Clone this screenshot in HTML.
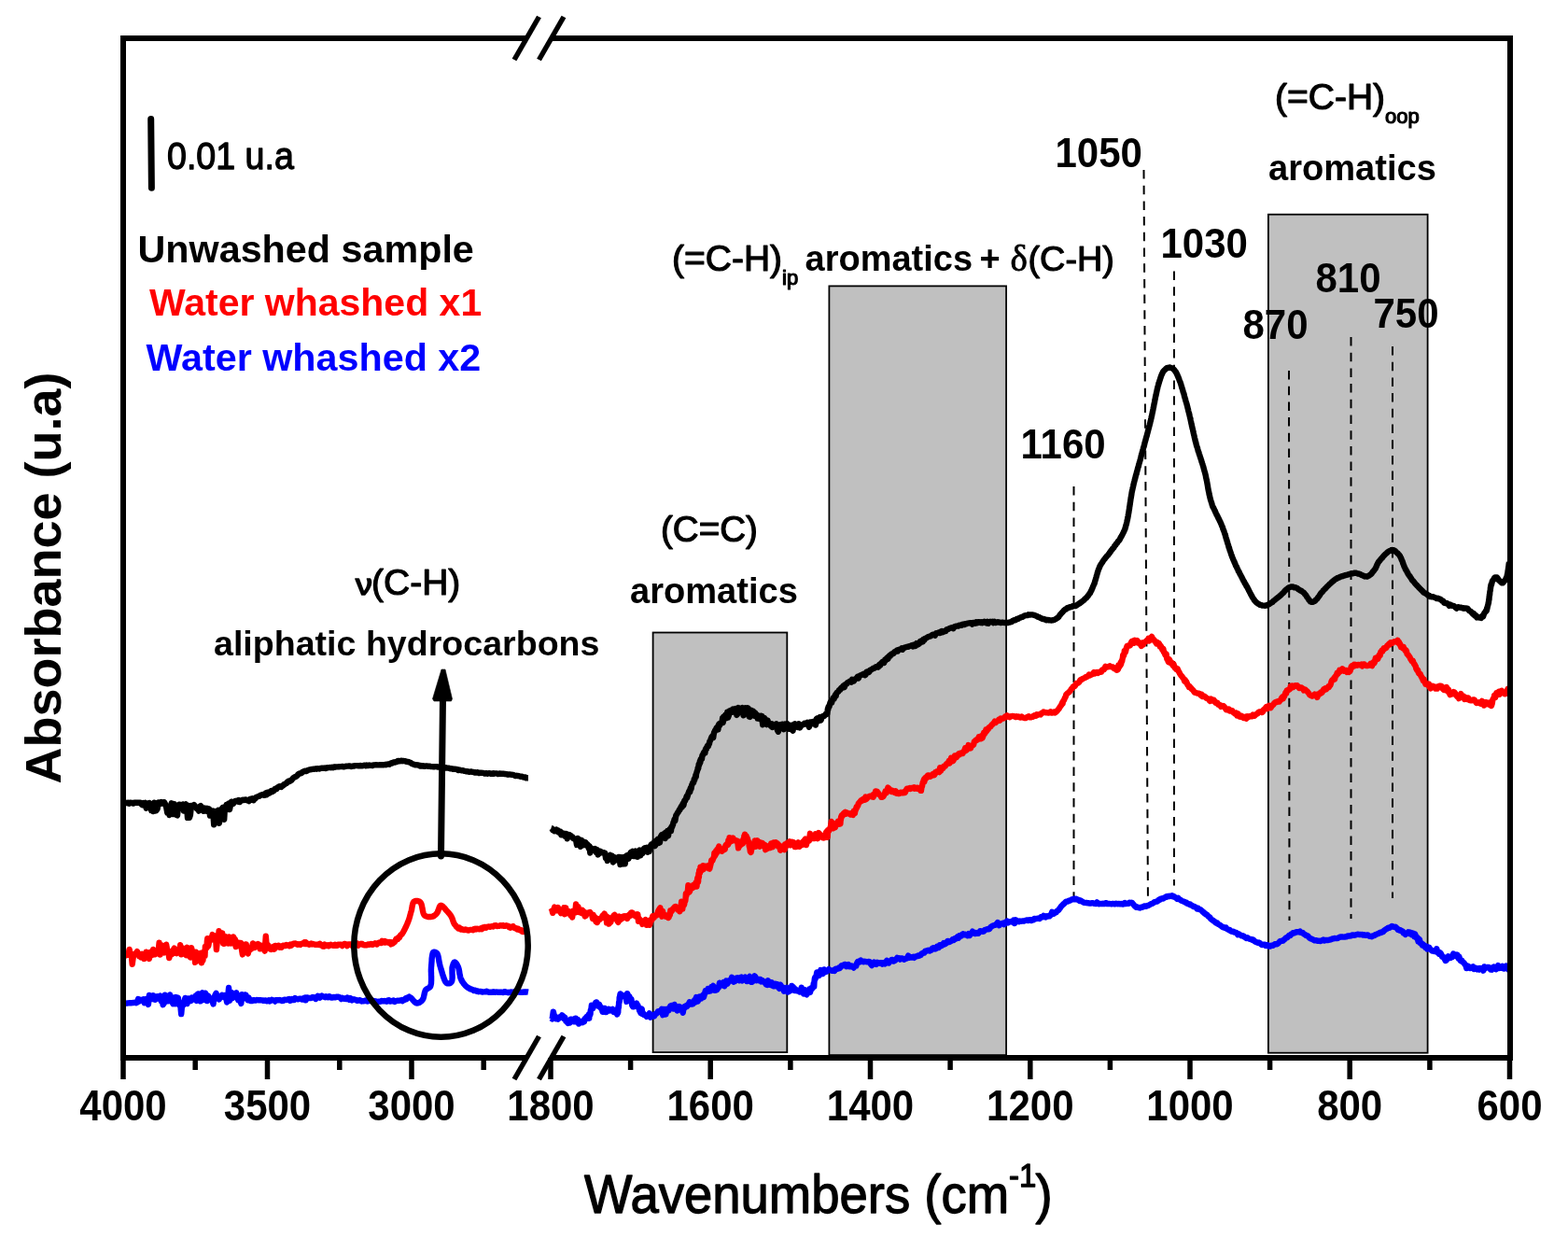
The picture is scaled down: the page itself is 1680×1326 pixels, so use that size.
<!DOCTYPE html>
<html><head><meta charset="utf-8"><title>FTIR spectra</title>
<style>html,body{margin:0;padding:0;background:#fff;}svg{display:block;}</style>
</head><body>
<svg width="1680" height="1326" viewBox="0 0 1680 1326"><rect x="699.6" y="677.5" width="143.7" height="449.6" fill="#c0c0c0" stroke="#000" stroke-width="1.8"/>
<rect x="888.4" y="306.4" width="189.7" height="823.7" fill="#c0c0c0" stroke="#000" stroke-width="1.8"/>
<rect x="1358.9" y="229.7" width="170.7" height="898.0" fill="#c0c0c0" stroke="#000" stroke-width="1.8"/>
<line x1="1150.5" y1="521" x2="1150.5" y2="963" stroke="#000" stroke-width="2" stroke-dasharray="9.5 7.2"/>
<line x1="1225.5" y1="182" x2="1230" y2="971" stroke="#000" stroke-width="2" stroke-dasharray="9.5 7.2"/>
<line x1="1258" y1="290.6" x2="1258" y2="948.6" stroke="#000" stroke-width="2" stroke-dasharray="9.5 7.2"/>
<line x1="1381" y1="397" x2="1381.5" y2="986" stroke="#000" stroke-width="2" stroke-dasharray="9.5 7.2"/>
<line x1="1447.5" y1="361" x2="1447.5" y2="984" stroke="#000" stroke-width="2" stroke-dasharray="9.5 7.2"/>
<line x1="1492" y1="371" x2="1492" y2="962" stroke="#000" stroke-width="2" stroke-dasharray="9.5 7.2"/>
<path d="M132.0 859.6L133.1 859.7L134.2 859.8L135.2 860.0L136.3 860.2L137.4 859.7L138.4 860.7L139.5 859.6L140.6 859.8L141.7 860.0L142.8 860.6L143.9 859.6L145.0 859.8L146.0 859.6L147.1 859.7L148.1 859.8L149.2 859.9L150.2 859.7L151.3 861.1L152.4 862.1L153.5 860.2L154.5 860.8L155.6 860.0L156.7 865.7L157.8 861.7L158.9 860.5L160.0 860.1L161.0 861.2L162.1 868.0L163.2 867.1L164.2 869.0L165.3 859.6L166.4 868.6L167.5 868.2L168.6 866.4L169.7 859.4L170.7 859.8L171.8 860.9L172.9 859.0L173.9 860.4L175.0 859.3L176.0 859.1L177.0 861.1L178.2 864.7L179.3 870.6L180.4 869.6L181.5 872.9L182.6 866.6L183.7 860.3L184.8 860.9L185.9 872.1L186.9 861.3L188.0 866.0L189.0 872.8L190.0 873.3L191.1 863.0L192.1 861.6L193.1 861.8L194.1 864.5L195.1 865.6L196.0 861.5L197.0 868.6L198.0 862.2L199.0 861.4L200.0 862.3L201.0 875.9L202.0 863.0L202.9 875.9L203.9 873.0L204.9 862.9L205.9 864.2L206.9 863.1L207.9 862.1L208.9 863.3L210.0 864.9L211.0 866.3L212.0 866.0L213.0 868.6L214.0 863.8L215.0 863.1L216.1 865.6L217.1 866.6L218.2 868.7L219.2 865.6L220.2 867.7L221.2 868.7L222.2 865.9L223.2 868.7L224.1 866.4L225.0 873.6L226.1 871.4L227.2 871.2L228.2 868.6L229.2 883.3L230.1 871.9L231.1 869.1L232.0 870.1L233.0 868.8L233.9 867.8L234.8 881.8L235.8 876.8L236.7 867.3L237.6 866.4L238.5 865.2L239.3 877.1L240.2 877.6L241.0 864.1L241.9 864.8L242.7 862.0L243.5 863.5L244.3 865.7L245.2 860.4L246.0 867.0L247.0 862.4L247.9 858.7L248.8 859.4L249.8 860.9L250.8 859.4L251.8 858.1L252.8 857.8L253.9 857.6L254.9 858.6L256.0 857.1L257.0 859.0L258.0 857.8L259.1 857.2L260.2 856.6L261.2 857.0L262.3 856.6L263.4 856.4L264.5 857.3L265.7 856.7L266.8 858.1L268.0 855.8L268.9 855.6L269.8 856.5L270.8 855.4L271.7 857.1L272.7 855.4L273.6 855.3L274.6 853.8L275.6 853.5L276.6 853.0L277.6 852.9L278.6 852.2L279.6 851.6L280.6 851.3L281.6 850.9L282.7 851.7L283.7 851.8L284.7 849.5L285.7 851.2L286.6 848.8L287.6 848.4L288.5 849.7L289.5 848.0L290.5 847.1L291.5 848.2L292.4 847.6L293.4 846.9L294.4 845.0L295.4 844.5L296.4 845.0L297.4 843.5L298.3 842.9L299.3 842.3L300.3 842.6L301.3 842.9L302.2 841.8L303.2 841.5L304.2 840.2L305.1 840.0L306.1 839.2L307.0 838.9L307.9 837.5L308.9 836.9L309.8 836.4L310.6 836.9L311.5 835.9L312.4 835.6L313.3 834.4L314.1 833.3L315.0 832.8L315.8 832.1L316.7 832.0L317.6 831.4L318.5 830.8L319.3 829.6L320.2 828.9L321.2 828.4L322.1 828.3L323.0 828.1L324.0 827.0L325.0 826.4L326.0 826.2L327.0 825.7L327.9 826.1L328.9 825.8L329.9 825.0L330.9 824.6L331.9 824.4L332.9 824.3L333.9 824.0L334.9 823.9L336.0 823.7L337.0 823.7L338.1 823.5L339.2 823.7L340.2 823.2L341.3 823.4L342.4 823.5L343.5 822.9L344.6 822.8L345.8 822.7L346.9 822.8L348.0 822.5L349.2 823.0L350.4 822.3L351.5 822.2L352.7 822.1L353.7 822.0L354.7 822.3L355.7 821.7L356.8 822.3L357.8 821.5L358.9 821.7L360.0 821.4L361.1 821.4L362.2 821.4L363.3 821.2L364.4 821.1L365.6 821.1L366.7 820.9L367.9 821.3L369.0 821.2L370.2 820.9L371.3 820.6L372.5 820.6L373.7 820.5L374.8 820.4L376.0 821.0L377.1 820.9L378.3 820.4L379.4 820.5L380.5 820.1L381.6 820.1L382.8 820.1L383.9 820.2L384.9 820.3L386.0 819.9L387.1 820.4L388.1 820.2L389.1 820.1L390.1 819.7L391.1 819.7L392.1 820.3L393.0 819.6L394.2 820.1L395.4 819.5L396.6 819.8L397.8 819.9L399.0 820.0L400.1 819.5L401.3 819.4L402.4 819.3L403.5 819.3L404.7 819.4L405.7 819.4L406.8 819.3L407.8 819.3L408.8 819.2L409.8 819.2L410.8 819.3L411.7 819.1L412.6 819.0L413.4 819.2L414.2 818.7L415.0 818.6L416.2 818.4L417.3 818.7L418.3 817.8L419.2 817.3L420.1 817.6L421.0 816.7L422.0 816.4L423.0 816.6L424.0 815.9L425.0 816.1L426.0 815.2L427.0 815.0L428.0 815.4L429.0 815.2L430.0 814.7L431.0 815.2L432.0 814.9L433.0 815.1L434.0 815.2L435.0 815.7L436.0 815.7L437.0 816.0L438.0 816.2L438.9 816.6L439.8 816.8L440.6 817.6L441.5 818.0L442.4 818.5L443.3 818.7L444.3 819.2L445.3 819.4L446.5 819.3L447.3 819.4L448.1 819.5L448.9 819.8L449.8 820.4L450.8 819.9L451.7 820.6L452.7 820.2L453.7 820.4L454.7 820.9L455.8 820.7L456.8 820.5L457.9 820.5L459.0 820.8L460.1 820.6L461.3 821.0L462.4 821.1L463.6 821.1L464.8 821.4L465.9 821.1L467.1 821.1L468.3 821.2L469.5 821.6L470.7 821.5L471.8 821.6L473.0 821.6L474.0 822.1L474.9 821.9L475.9 822.6L476.9 822.2L477.9 822.3L479.0 822.6L480.0 822.6L481.1 822.7L482.1 823.3L483.2 823.1L484.3 823.3L485.3 823.7L486.4 823.7L487.5 823.8L488.6 823.9L489.7 824.2L490.8 825.0L491.9 824.5L493.1 824.9L494.2 825.2L495.3 825.1L496.4 825.4L497.5 825.9L498.6 825.9L499.7 826.4L500.8 826.1L501.9 826.6L503.0 826.8L504.1 826.5L505.1 826.5L506.2 826.9L507.3 827.0L508.3 827.6L509.4 827.1L510.4 827.6L511.4 827.3L512.4 827.4L513.4 828.1L514.6 827.6L515.7 827.8L516.9 827.9L518.1 827.9L519.2 828.6L520.4 828.3L521.5 828.3L522.6 828.7L523.7 828.2L524.9 828.2L526.0 828.9L527.1 828.9L528.2 828.3L529.3 828.7L530.4 828.4L531.4 828.4L532.5 828.4L533.6 829.1L534.7 828.7L535.7 828.5L536.8 828.8L537.8 828.6L538.9 828.7L539.9 828.8L540.9 829.0L542.0 829.2L543.0 829.1L544.1 829.7L545.2 829.4L546.3 829.5L547.4 829.6L548.4 829.8L549.5 829.9L550.5 830.1L551.6 830.8L552.6 831.1L553.7 830.7L554.7 831.0L555.7 831.2L556.7 831.4L557.8 831.8L558.8 831.7L559.8 831.9L560.8 832.5L561.9 832.4L562.9 832.4L563.9 833.4L565.0 833.2L566.0 833.2" fill="none" stroke="#000" stroke-width="6.4" stroke-linejoin="round" stroke-linecap="butt"/>
<path d="M590.4 887.1L591.3 887.4L592.3 889.1L593.2 888.7L594.2 890.2L595.1 889.4L596.0 888.6L596.9 890.5L597.8 889.3L598.6 891.6L599.5 891.8L600.3 890.7L601.2 894.2L602.0 892.1L602.9 894.2L603.9 894.7L604.8 892.9L605.8 895.9L606.8 893.0L607.8 898.3L608.8 894.3L609.7 893.9L610.6 894.5L611.5 895.0L612.4 896.1L613.3 896.3L614.2 898.2L615.1 898.2L616.0 898.7L617.0 898.9L618.0 904.9L619.0 897.9L620.1 899.5L621.1 902.2L622.0 906.8L623.0 899.8L623.9 905.6L624.8 901.5L625.6 902.3L626.5 901.9L627.3 902.2L628.2 905.5L629.0 904.0L629.9 905.1L630.7 908.4L631.5 906.3L632.3 913.5L633.2 908.1L634.0 909.6L635.0 909.1L635.9 909.5L636.8 910.6L637.7 909.2L638.7 913.0L639.7 910.0L640.7 915.4L641.7 914.3L642.6 911.6L643.6 912.0L644.5 913.2L645.4 913.4L646.4 913.1L647.3 913.4L648.2 913.6L649.0 918.9L649.9 918.2L650.8 922.0L651.7 918.5L652.7 917.0L653.8 915.8L654.8 918.4L655.8 916.6L656.9 923.5L657.8 918.0L658.8 921.8L659.8 919.5L660.7 918.9L661.6 920.1L662.6 917.9L663.6 917.9L664.5 926.0L665.5 918.2L666.6 924.3L667.6 925.3L668.7 918.1L669.7 925.3L670.7 917.7L671.6 916.3L672.5 917.0L673.4 919.7L674.3 915.9L675.1 914.2L676.0 912.8L676.9 916.9L677.9 911.8L678.9 917.0L679.9 913.7L681.0 911.6L682.1 917.6L683.2 917.7L684.2 912.3L685.2 910.6L686.2 916.3L687.3 910.7L688.3 914.1L689.2 911.5L690.2 908.6L691.1 908.2L692.1 909.3L693.0 908.0L693.8 912.8L694.7 911.6L695.6 912.0L696.4 907.2L697.3 905.5L698.1 904.2L698.9 904.5L699.6 904.7L700.4 903.0L701.1 901.6L701.8 906.2L702.5 904.4L703.3 903.9L704.0 899.6L704.7 899.0L705.5 903.1L706.2 899.5L707.0 902.3L707.7 896.6L708.5 895.1L709.2 893.9L710.0 893.9L710.9 894.0L711.7 892.9L712.7 898.0L713.6 891.5L714.4 892.8L715.2 890.1L716.0 895.4L716.8 889.7L717.5 888.8L718.2 887.5L718.9 890.2L719.5 885.8L719.9 886.0L720.3 885.4L720.7 883.6L721.1 883.2L721.4 881.1L721.8 880.6L722.1 879.7L722.5 877.9L722.9 877.1L723.3 879.1L723.8 876.2L724.2 873.7L724.7 872.7L725.2 872.1L725.7 871.1L726.3 869.9L726.8 870.0L727.4 868.4L728.0 867.1L728.5 867.2L729.1 865.5L729.7 864.3L730.2 863.4L730.8 864.5L731.3 861.7L731.8 860.5L732.3 862.7L732.7 861.1L733.2 857.9L733.7 857.2L734.2 857.5L734.6 856.3L735.1 855.1L735.6 853.1L736.1 854.5L736.5 853.1L737.0 851.7L737.4 849.9L737.9 848.8L738.3 847.4L738.8 848.1L739.2 848.4L739.6 844.8L740.1 843.6L740.5 845.0L740.9 842.5L741.3 840.6L741.8 839.9L742.2 838.5L742.6 837.8L743.0 838.4L743.4 836.8L743.8 834.4L744.2 835.4L744.6 833.1L745.0 832.6L745.3 830.6L745.7 832.2L746.0 828.9L746.3 828.0L746.6 827.1L747.0 825.5L747.2 825.3L747.5 824.4L747.7 822.6L748.0 822.1L748.2 823.2L748.4 821.3L748.7 818.6L749.0 819.7L749.3 818.8L749.6 817.3L750.0 814.9L750.3 816.8L750.7 813.4L751.1 813.6L751.5 812.1L752.0 813.0L752.4 809.2L752.9 809.0L753.4 807.4L753.9 806.4L754.4 805.5L754.9 805.2L755.4 806.6L755.9 802.6L756.4 801.6L756.9 802.4L757.4 800.5L757.9 798.9L758.4 798.8L758.9 799.2L759.4 796.8L759.9 796.8L760.4 794.1L760.9 793.4L761.3 792.6L761.8 791.1L762.3 789.8L762.8 788.9L763.2 788.4L763.7 789.7L764.2 790.0L764.7 786.6L765.2 784.2L765.7 783.6L766.2 782.2L766.7 781.6L767.2 781.1L767.7 779.7L768.3 779.0L768.8 778.5L769.4 781.4L769.9 776.3L770.5 775.3L771.1 777.1L771.7 775.3L772.3 774.5L772.9 773.7L773.5 773.8L774.1 769.3L774.7 774.0L775.3 767.6L775.9 767.6L776.6 767.1L777.2 765.7L777.9 769.3L778.6 767.9L779.3 762.7L780.0 768.6L780.9 766.1L781.8 761.1L782.7 761.1L783.6 760.6L784.5 762.7L785.5 759.6L786.5 760.3L787.4 762.7L788.4 759.1L789.4 765.9L790.3 764.7L791.3 758.1L792.3 760.0L793.4 758.8L794.4 763.2L795.5 758.1L796.5 766.2L797.6 761.6L798.6 758.3L799.6 759.6L800.6 758.2L801.6 758.7L802.5 767.5L803.5 767.9L804.5 760.6L805.4 761.1L806.3 762.8L807.2 761.9L808.1 766.7L809.1 763.5L810.0 765.1L810.9 765.3L811.7 769.6L812.6 768.9L813.5 768.3L814.4 770.1L815.3 766.8L816.2 766.9L817.2 776.2L818.1 768.6L819.0 769.1L819.9 772.7L820.7 774.8L821.6 776.0L822.5 771.6L823.3 774.8L824.2 774.7L825.1 776.5L826.0 777.6L826.9 775.2L827.8 779.0L828.8 776.1L829.8 776.6L830.8 775.9L831.8 775.3L832.9 782.1L833.9 783.7L835.0 779.8L836.0 776.3L837.1 776.7L838.1 775.7L839.1 775.9L840.0 781.2L841.1 775.6L842.2 776.4L843.3 775.2L844.3 777.7L845.3 780.6L846.4 779.7L847.5 776.8L848.5 781.6L849.5 782.7L850.6 776.0L851.7 775.3L852.7 777.0L853.8 776.6L854.9 779.0L856.0 775.4L857.0 779.5L858.0 777.7L859.0 776.7L860.0 776.3L861.0 775.8L862.0 774.7L863.0 774.6L864.0 775.4L865.0 773.9L866.0 776.0L866.9 778.7L867.9 773.4L868.9 775.9L869.9 773.4L870.9 773.1L871.9 774.6L872.9 772.8L873.9 776.6L874.8 769.9L875.8 769.3L876.7 772.5L877.5 770.0L878.5 768.1L879.6 771.4L880.5 768.4L881.5 767.2L882.4 767.1L883.2 766.9L884.0 765.6L884.6 765.1L885.0 764.5L885.5 763.8L885.9 764.5L886.2 764.8L886.6 761.9L886.9 759.3L887.3 759.8L887.6 757.0L888.0 756.3L888.5 756.9L889.0 754.4L889.5 752.6L890.0 752.0L890.5 750.9L891.1 752.7L891.7 750.5L892.3 748.5L892.9 747.4L893.5 748.6L894.2 747.0L894.9 744.4L895.6 745.6L896.2 742.7L896.9 741.7L897.6 741.1L898.3 740.8L899.0 739.2L899.7 738.6L900.3 738.8L901.0 737.2L901.8 736.5L902.5 736.7L903.3 734.9L904.0 734.3L904.8 736.1L905.5 733.1L906.3 733.0L907.1 732.5L907.9 731.4L908.7 730.8L909.6 730.4L910.5 729.7L911.3 729.6L912.2 730.6L913.0 727.9L914.0 729.1L914.9 729.4L915.9 727.6L916.8 727.0L917.8 726.7L918.8 724.8L919.8 726.5L920.8 724.2L921.8 723.3L922.8 723.1L923.8 722.5L924.8 722.0L925.8 721.5L926.7 723.1L927.6 722.6L928.5 719.6L929.5 719.4L930.4 719.3L931.3 719.8L932.1 717.8L933.0 717.5L933.9 717.2L934.7 716.5L935.6 715.8L936.5 715.8L937.4 715.4L938.3 714.4L939.2 714.0L940.1 713.7L941.0 714.6L941.8 712.2L942.6 711.6L943.3 712.5L944.1 710.2L944.9 709.6L945.7 708.8L946.5 709.3L947.3 709.8L948.1 706.8L948.9 707.2L949.8 705.2L950.6 704.4L951.4 705.8L952.2 703.4L953.1 702.1L953.9 702.6L954.8 700.9L955.6 700.3L956.5 700.3L957.4 699.9L958.2 698.4L959.1 697.8L960.0 697.9L960.9 696.6L961.9 697.3L962.9 695.8L963.9 695.6L964.9 695.6L966.0 694.5L967.0 695.7L968.0 694.2L969.1 693.7L970.1 693.3L971.2 693.0L972.2 692.6L973.3 692.7L974.3 692.1L975.3 691.9L976.3 691.6L977.3 691.0L978.3 692.4L979.2 691.2L980.1 690.3L981.0 691.8L982.1 689.1L983.1 690.6L984.0 690.2L985.0 689.3L985.9 687.0L986.8 686.6L987.7 686.1L988.6 687.4L989.5 684.8L990.4 685.5L991.3 683.8L992.3 683.5L993.3 682.8L994.3 682.2L995.2 681.8L996.1 681.6L997.1 681.4L998.0 680.6L999.0 679.9L999.9 679.7L1000.9 679.6L1001.9 680.5L1002.9 678.3L1003.9 678.3L1005.0 677.8L1006.0 677.3L1007.0 677.9L1008.0 676.4L1009.1 676.0L1010.1 677.2L1011.2 676.4L1012.2 676.3L1013.3 675.9L1014.3 674.1L1015.3 674.1L1016.3 673.7L1017.3 673.0L1018.3 672.7L1019.3 672.5L1020.4 672.2L1021.4 673.2L1022.4 671.4L1023.5 670.9L1024.5 670.8L1025.6 670.4L1026.6 670.6L1027.7 669.6L1028.7 669.7L1029.8 669.9L1030.9 668.8L1031.9 668.6L1033.0 669.1L1034.1 668.1L1035.1 668.3L1036.2 667.6L1037.3 667.6L1038.3 667.4L1039.4 667.3L1040.5 667.2L1041.6 668.7L1042.6 666.9L1043.7 667.2L1044.8 667.8L1046.0 666.3L1047.1 667.2L1048.2 666.3L1049.3 666.2L1050.4 666.9L1051.5 666.2L1052.6 667.2L1053.6 666.7L1054.7 665.8L1055.8 666.6L1056.9 667.4L1057.9 665.9L1059.0 667.7L1060.0 666.3L1061.0 665.8L1062.1 666.0L1063.3 665.8L1064.4 667.0L1065.5 665.9L1066.7 667.0L1067.8 666.6L1068.9 666.3L1070.0 666.4L1071.1 666.6L1072.2 667.1L1073.2 666.8L1074.3 666.8L1075.3 666.9L1076.3 667.0L1077.3 667.1L1078.2 666.9L1079.1 667.0L1080.0 667.0L1081.1 666.6L1082.1 666.5L1083.0 666.2L1084.0 665.9L1084.8 665.1L1085.7 664.6L1086.6 664.2L1087.5 664.3L1088.5 663.8L1089.5 662.9L1090.4 662.8L1091.4 662.7L1092.3 661.9L1093.3 661.7L1094.4 660.9L1095.4 660.9L1096.5 660.1L1097.5 659.6L1098.6 659.2L1099.7 659.1L1100.7 659.1L1101.8 658.3L1102.8 658.5L1103.8 658.5L1104.8 658.4L1105.9 658.4L1106.9 658.6L1107.9 658.8L1109.0 659.2L1110.0 659.6L1111.0 660.0L1112.0 660.9L1113.0 660.9L1114.0 661.4L1115.0 662.0L1116.0 662.4L1117.0 663.0L1118.0 663.0L1119.1 663.2L1120.1 663.8L1121.2 664.2L1122.2 663.9L1123.3 664.2L1124.3 664.3L1125.4 664.4L1126.4 664.5L1127.5 664.4L1128.5 664.1L1129.5 663.9L1130.3 663.5L1131.1 663.1L1131.9 662.4L1132.7 662.0L1133.5 661.5L1134.3 660.7L1135.1 659.4L1135.8 658.5L1136.6 657.6L1137.4 656.7L1138.2 655.8L1138.9 655.2L1139.7 654.1L1140.5 653.3L1141.3 652.6L1142.1 652.5L1142.9 651.6L1143.9 650.9L1145.0 651.0L1146.0 650.2L1147.1 650.3L1148.1 650.0L1149.2 649.3L1150.2 649.2L1151.3 648.9L1152.3 649.0L1153.3 648.6L1154.3 647.8L1155.2 647.2L1156.0 646.6L1156.9 646.1L1157.8 645.4L1158.7 644.7L1159.5 644.2L1160.4 643.4L1161.2 642.9L1162.0 641.9L1162.8 641.2L1163.6 640.6L1164.3 640.0L1165.0 638.9L1165.7 638.4L1166.3 637.2L1166.9 636.6L1167.5 635.6L1168.0 635.2L1168.5 634.0L1169.0 632.9L1169.4 632.4L1169.8 631.2L1170.3 630.2L1170.7 629.4L1171.1 628.1L1171.6 627.1L1172.0 626.1L1172.4 625.2L1172.7 624.8L1173.0 623.5L1173.3 622.3L1173.6 621.4L1173.9 620.5L1174.2 619.3L1174.5 618.3L1174.8 617.2L1175.1 616.2L1175.4 615.2L1175.7 614.1L1176.0 613.0L1176.3 612.2L1176.7 610.9L1177.0 609.9L1177.4 609.1L1177.8 608.3L1178.2 607.0L1178.7 606.0L1179.2 605.1L1179.7 604.2L1180.3 603.4L1180.8 602.7L1181.4 601.8L1182.0 600.7L1182.6 599.9L1183.2 599.1L1183.9 598.4L1184.5 597.4L1185.2 596.6L1185.8 595.9L1186.5 595.0L1187.1 594.7L1187.8 593.5L1188.5 592.9L1189.1 591.6L1189.8 591.0L1190.4 589.8L1191.0 589.2L1191.6 588.6L1192.1 587.5L1192.8 587.0L1193.4 586.4L1194.0 585.0L1194.6 584.3L1195.2 583.8L1195.9 582.6L1196.5 582.0L1197.1 581.4L1197.7 580.2L1198.3 579.4L1198.9 579.0L1199.6 578.1L1200.1 577.0L1200.7 575.8L1201.3 574.9L1201.9 573.9L1202.4 572.9L1202.9 571.9L1203.4 570.9L1203.9 569.9L1204.4 568.7L1204.7 568.1L1205.1 567.1L1205.4 566.7L1205.7 565.2L1206.0 564.5L1206.2 563.3L1206.5 562.4L1206.8 561.5L1207.0 560.7L1207.3 559.4L1207.5 558.3L1207.7 557.4L1208.0 556.3L1208.2 555.2L1208.4 554.3L1208.6 553.2L1208.8 551.9L1209.0 550.8L1209.2 549.7L1209.4 548.7L1209.5 547.9L1209.7 546.3L1209.9 545.6L1210.1 544.0L1210.2 542.9L1210.4 542.2L1210.6 540.5L1210.8 539.5L1210.9 538.6L1211.1 537.2L1211.3 536.0L1211.4 535.1L1211.6 533.7L1211.8 532.9L1212.0 531.6L1212.2 530.4L1212.4 529.3L1212.5 528.2L1212.7 527.1L1212.9 526.2L1213.1 525.3L1213.4 524.0L1213.6 523.0L1213.8 522.2L1214.1 521.0L1214.3 520.1L1214.6 518.8L1214.8 517.7L1215.1 516.6L1215.4 515.5L1215.6 514.5L1215.9 513.6L1216.2 512.4L1216.5 511.3L1216.7 510.3L1217.0 509.2L1217.3 508.2L1217.6 507.6L1217.8 506.4L1218.1 505.1L1218.4 504.4L1218.7 503.1L1218.9 502.3L1219.2 501.2L1219.5 500.2L1219.8 499.5L1220.0 498.5L1220.3 497.1L1220.6 496.2L1220.9 495.1L1221.2 494.1L1221.4 493.3L1221.7 492.5L1222.0 491.1L1222.3 490.0L1222.5 489.1L1222.8 488.0L1223.1 486.9L1223.4 486.0L1223.7 484.9L1223.9 483.8L1224.2 482.9L1224.5 481.8L1224.8 480.8L1225.0 480.0L1225.3 478.9L1225.6 478.3L1225.9 477.2L1226.2 475.8L1226.4 474.8L1226.7 473.7L1227.0 472.8L1227.3 471.6L1227.6 470.7L1227.8 469.6L1228.1 468.6L1228.4 467.6L1228.7 466.9L1229.0 465.5L1229.2 464.7L1229.5 463.7L1229.8 462.4L1230.1 461.5L1230.3 460.4L1230.6 459.3L1230.9 458.3L1231.2 457.2L1231.4 456.1L1231.7 455.3L1232.0 454.0L1232.2 453.3L1232.5 451.8L1232.7 450.8L1233.0 450.3L1233.2 448.8L1233.5 447.9L1233.7 446.7L1233.9 446.0L1234.2 444.7L1234.4 443.6L1234.7 442.2L1234.9 441.4L1235.1 440.4L1235.4 438.8L1235.6 437.7L1235.8 436.4L1236.1 435.7L1236.3 434.1L1236.5 433.0L1236.8 431.7L1237.0 431.1L1237.2 429.6L1237.4 428.4L1237.7 427.2L1237.9 426.0L1238.1 424.9L1238.4 423.9L1238.6 423.0L1238.8 421.9L1239.0 421.1L1239.3 419.7L1239.5 418.7L1239.7 417.7L1240.0 416.6L1240.2 415.7L1240.4 414.7L1240.6 413.8L1240.9 413.0L1241.1 412.3L1241.3 411.3L1241.6 410.6L1241.8 410.0L1242.2 408.5L1242.6 407.2L1242.9 406.5L1243.3 405.0L1243.7 404.0L1244.0 402.9L1244.4 401.9L1244.8 401.2L1245.2 400.0L1245.6 399.6L1246.0 398.4L1246.5 397.7L1247.0 397.1L1247.8 396.4L1248.7 395.5L1249.6 394.6L1250.5 394.0L1251.5 394.0L1252.4 393.6L1253.3 393.5L1254.3 393.9L1255.3 394.1L1256.2 394.7L1257.2 395.3L1258.0 396.1L1258.6 396.7L1259.1 397.6L1259.7 398.2L1260.1 398.9L1260.6 399.8L1261.0 400.8L1261.5 401.8L1261.9 402.8L1262.4 404.0L1262.9 405.0L1263.2 405.8L1263.5 406.9L1263.8 407.7L1264.1 408.4L1264.5 409.2L1264.8 410.1L1265.1 411.1L1265.4 412.0L1265.8 413.5L1266.1 414.1L1266.4 415.6L1266.7 416.2L1267.1 417.6L1267.4 418.7L1267.7 419.9L1268.0 420.6L1268.4 421.7L1268.7 422.9L1269.0 424.5L1269.4 425.6L1269.7 426.8L1270.0 427.5L1270.3 429.0L1270.6 429.8L1271.0 431.2L1271.3 432.1L1271.6 433.3L1271.9 434.4L1272.2 435.5L1272.5 436.9L1272.7 437.6L1273.0 438.6L1273.2 439.8L1273.5 440.8L1273.7 441.6L1274.0 442.6L1274.2 443.7L1274.5 444.7L1274.7 445.8L1275.0 446.8L1275.2 447.8L1275.5 448.9L1275.7 450.1L1275.9 451.0L1276.2 452.2L1276.4 453.6L1276.7 454.4L1276.9 455.8L1277.1 456.5L1277.4 457.6L1277.6 458.9L1277.9 459.7L1278.1 460.8L1278.3 461.8L1278.6 463.0L1278.8 464.0L1279.1 465.3L1279.3 466.2L1279.6 467.2L1279.8 468.5L1280.1 469.6L1280.3 470.4L1280.6 471.6L1280.8 472.8L1281.1 473.3L1281.3 474.4L1281.6 475.5L1281.9 476.8L1282.2 477.8L1282.5 478.6L1282.9 479.6L1283.2 480.8L1283.5 481.8L1283.8 483.3L1284.2 483.9L1284.5 484.9L1284.8 486.1L1285.2 487.2L1285.5 488.1L1285.8 489.1L1286.2 490.4L1286.5 491.2L1286.8 492.2L1287.2 493.2L1287.5 494.6L1287.8 495.2L1288.2 496.5L1288.5 497.3L1288.8 498.4L1289.1 499.3L1289.4 500.4L1289.7 501.6L1290.0 502.8L1290.3 503.9L1290.6 505.0L1290.9 505.7L1291.2 506.9L1291.4 507.7L1291.7 509.0L1291.9 509.8L1292.1 511.3L1292.3 512.1L1292.6 513.3L1292.8 514.3L1293.0 515.1L1293.2 516.2L1293.4 517.4L1293.6 518.5L1293.8 519.6L1294.0 520.6L1294.1 521.6L1294.3 522.8L1294.5 523.9L1294.7 524.9L1294.9 526.0L1295.2 527.1L1295.4 528.1L1295.6 529.4L1295.8 530.2L1296.1 531.3L1296.3 532.5L1296.6 533.4L1296.8 534.5L1297.1 535.4L1297.4 536.4L1297.7 537.3L1298.0 538.3L1298.4 539.5L1298.7 540.8L1299.1 541.7L1299.5 543.0L1299.9 543.5L1300.4 544.4L1300.8 545.4L1301.3 546.4L1301.7 547.3L1302.2 548.3L1302.6 549.3L1303.1 550.2L1303.6 551.5L1304.1 552.2L1304.5 553.0L1305.0 554.1L1305.5 555.2L1306.0 556.0L1306.4 556.9L1306.9 558.2L1307.4 558.9L1307.8 560.0L1308.3 560.9L1308.7 562.0L1309.2 563.3L1309.6 564.0L1310.0 565.0L1310.3 566.4L1310.7 567.3L1311.0 568.0L1311.4 568.9L1311.7 569.9L1312.1 571.1L1312.4 572.1L1312.7 573.0L1313.1 574.0L1313.4 575.5L1313.7 576.4L1314.0 577.5L1314.4 578.5L1314.7 579.8L1315.0 580.5L1315.3 581.8L1315.6 582.6L1316.0 583.8L1316.3 585.0L1316.6 586.3L1317.0 586.8L1317.3 588.1L1317.6 589.3L1318.0 590.1L1318.3 591.1L1318.7 592.1L1319.0 593.2L1319.4 594.4L1319.8 595.2L1320.1 596.4L1320.5 597.3L1320.9 598.2L1321.3 599.2L1321.7 600.1L1322.2 601.2L1322.6 602.3L1323.1 603.3L1323.5 604.3L1324.0 605.8L1324.5 606.5L1325.0 607.3L1325.4 608.5L1325.9 609.4L1326.4 610.4L1326.9 611.8L1327.4 612.3L1327.9 613.3L1328.4 614.6L1328.9 615.3L1329.4 616.3L1329.9 617.2L1330.4 618.3L1330.9 619.1L1331.4 620.3L1331.9 621.0L1332.4 622.2L1332.9 622.8L1333.4 623.9L1333.9 625.1L1334.4 625.5L1334.9 626.5L1335.4 627.6L1336.0 628.3L1336.5 629.3L1337.0 630.3L1337.6 631.4L1338.1 632.7L1338.6 633.4L1339.2 634.6L1339.7 635.6L1340.2 636.6L1340.8 637.5L1341.3 638.5L1341.8 639.6L1342.4 640.5L1342.9 641.2L1343.5 642.0L1344.0 643.0L1344.6 643.6L1345.2 644.3L1345.8 644.9L1346.4 645.5L1347.0 645.9L1348.0 646.6L1349.0 647.1L1350.0 647.8L1351.0 647.9L1352.1 648.5L1353.1 648.6L1354.2 648.6L1355.3 648.7L1356.4 648.6L1357.2 648.0L1358.1 647.8L1358.9 647.5L1359.8 647.2L1360.7 646.4L1361.6 645.9L1362.5 645.3L1363.4 645.0L1364.2 643.8L1365.1 643.2L1366.0 642.6L1366.9 641.7L1367.8 641.0L1368.7 640.4L1369.6 639.6L1370.4 639.0L1371.2 638.3L1372.1 637.5L1372.9 636.8L1373.7 636.0L1374.5 635.2L1375.3 634.6L1376.1 633.5L1376.8 632.7L1377.6 632.0L1378.4 631.2L1379.2 630.9L1380.0 629.9L1380.8 629.4L1381.6 629.0L1382.5 628.8L1383.3 628.5L1384.3 628.6L1385.3 628.5L1386.3 629.1L1387.3 629.4L1388.3 629.3L1389.4 629.8L1390.4 630.4L1391.4 631.4L1392.4 631.9L1393.4 632.6L1394.4 632.9L1395.3 633.7L1396.2 634.3L1397.0 634.9L1397.8 635.8L1398.5 636.8L1399.2 637.5L1399.9 638.7L1400.6 639.8L1401.2 640.5L1401.9 641.5L1402.5 642.6L1403.2 643.2L1403.9 644.4L1404.6 644.4L1405.3 644.9L1406.0 644.9L1406.7 644.8L1407.4 644.4L1408.1 644.1L1408.9 643.7L1409.6 642.8L1410.3 642.1L1411.1 641.6L1411.8 640.5L1412.6 639.3L1413.3 638.5L1414.1 637.2L1414.8 636.1L1415.6 635.1L1416.4 634.2L1417.2 633.6L1417.9 632.3L1418.7 631.7L1419.5 630.8L1420.2 630.2L1421.0 629.2L1421.8 628.4L1422.6 627.7L1423.4 626.8L1424.2 626.1L1425.0 625.3L1425.8 624.7L1426.6 623.8L1427.3 623.4L1428.1 622.5L1428.9 622.0L1429.7 621.1L1430.5 620.6L1431.3 620.0L1432.1 619.8L1433.0 619.0L1434.0 618.7L1434.9 618.6L1435.9 617.8L1436.8 617.6L1437.8 617.2L1438.7 617.1L1439.7 616.6L1440.6 616.4L1441.5 616.1L1442.5 615.9L1443.5 615.7L1444.6 615.4L1445.6 615.0L1446.6 614.6L1447.7 614.4L1448.7 614.1L1449.7 614.3L1450.8 613.7L1451.8 613.6L1452.9 613.7L1453.9 614.1L1454.9 614.5L1455.9 614.5L1457.0 614.9L1458.0 615.4L1459.0 616.0L1460.1 616.3L1461.1 616.8L1462.1 617.5L1463.0 617.3L1463.9 617.5L1464.8 617.5L1465.7 617.1L1466.5 616.8L1467.3 616.1L1468.1 615.7L1468.9 615.0L1469.6 614.4L1470.3 613.2L1471.0 612.3L1471.6 611.8L1472.3 610.7L1472.9 610.0L1473.5 609.2L1474.0 608.2L1474.4 607.5L1474.9 606.1L1475.3 605.1L1475.8 604.2L1476.3 603.1L1476.9 602.1L1477.5 601.2L1478.2 600.6L1478.9 599.6L1479.6 598.7L1480.3 598.0L1481.2 597.2L1482.0 595.9L1482.9 595.0L1483.8 594.2L1484.7 593.2L1485.6 592.5L1486.5 591.7L1487.4 590.9L1488.3 590.3L1489.2 589.9L1490.1 589.9L1490.8 589.2L1491.6 589.0L1492.5 589.6L1493.4 589.3L1494.3 589.8L1495.1 590.4L1495.9 591.3L1496.7 592.0L1497.5 592.6L1498.3 593.6L1499.0 594.3L1499.5 594.9L1500.0 595.8L1500.5 596.6L1500.9 597.5L1501.4 598.5L1501.8 599.8L1502.2 600.4L1502.6 601.3L1503.0 602.8L1503.4 603.8L1503.8 604.8L1504.2 605.7L1504.6 607.0L1505.0 607.7L1505.5 608.8L1506.0 610.0L1506.5 610.6L1507.0 611.5L1507.6 612.6L1508.1 613.5L1508.7 614.7L1509.3 615.6L1509.8 616.3L1510.4 617.0L1511.0 618.0L1511.6 618.8L1512.3 620.0L1512.9 621.1L1513.5 621.8L1514.2 622.3L1514.8 623.1L1515.5 624.0L1516.2 625.1L1516.9 625.8L1517.6 626.3L1518.3 627.2L1519.1 628.0L1519.8 628.7L1520.6 629.8L1521.4 630.4L1522.2 631.2L1523.0 632.1L1523.8 632.7L1524.6 633.8L1525.4 634.5L1526.3 635.1L1527.1 635.3L1527.9 635.9L1528.7 636.5L1529.5 637.0L1530.3 637.9L1531.4 637.9L1532.4 639.0L1533.5 639.2L1534.6 639.1L1535.6 639.2L1536.7 639.8L1537.7 640.1L1538.8 640.8L1539.7 641.1L1540.7 640.8L1541.7 641.5L1542.7 641.5L1543.6 642.0L1544.5 642.8L1545.4 643.8L1546.3 643.7L1547.2 645.7L1548.2 646.0L1549.1 645.9L1549.9 645.9L1550.8 646.6L1551.7 647.3L1552.7 648.8L1553.6 647.5L1554.6 647.9L1555.5 648.8L1556.5 648.7L1557.6 649.1L1558.6 649.7L1559.6 650.8L1560.6 651.6L1561.6 650.5L1562.7 650.2L1563.8 650.6L1564.9 650.8L1566.0 650.8L1567.2 651.4L1568.3 651.7L1569.4 651.4L1570.4 651.4L1571.5 651.6L1572.5 651.9L1573.5 653.3L1574.4 654.2L1575.4 654.6L1576.3 655.5L1577.2 656.7L1578.1 657.7L1579.0 657.1L1579.9 659.2L1580.7 659.7L1581.5 659.3L1582.4 661.4L1583.1 660.6L1583.9 661.1L1584.7 661.6L1585.4 661.4L1586.2 661.1L1587.0 661.8L1587.7 660.2L1588.4 659.5L1589.1 660.3L1589.8 658.0L1590.4 656.7L1591.1 655.9L1591.7 655.0L1592.2 653.9L1592.8 654.1L1593.1 651.7L1593.4 651.9L1593.7 649.9L1594.0 649.0L1594.3 647.8L1594.5 647.1L1594.7 645.6L1594.9 645.9L1595.1 643.6L1595.3 642.0L1595.5 642.0L1595.6 639.5L1595.8 638.4L1595.9 637.0L1596.1 637.3L1596.3 634.4L1596.4 633.6L1596.6 632.7L1596.8 632.4L1596.9 629.6L1597.1 629.6L1597.3 627.5L1597.5 626.4L1597.7 625.8L1598.0 626.4L1598.2 624.9L1598.5 624.3L1598.8 622.6L1599.5 621.5L1600.2 621.0L1600.9 619.4L1601.6 618.6L1602.4 618.4L1603.2 618.6L1603.9 618.4L1604.7 619.4L1605.4 620.9L1606.2 621.7L1607.0 622.2L1607.7 623.2L1608.5 623.9L1609.2 624.4L1610.0 624.4L1610.8 623.6L1611.6 622.7L1612.3 621.8L1613.0 620.7L1613.6 619.7L1613.9 618.8L1614.2 618.5L1614.5 617.7L1614.7 616.6L1615.0 615.4L1615.2 614.3L1615.4 613.8L1615.5 612.3L1615.7 611.0L1615.9 609.9L1616.0 609.0L1616.2 608.0L1616.3 606.9L1616.5 605.8L1616.6 604.2L1616.8 603.6L1617.0 602.0" fill="none" stroke="#000" stroke-width="6.4" stroke-linejoin="round" stroke-linecap="butt"/>
<path d="M132.2 1023.5L133.3 1023.5L134.3 1023.5L135.4 1023.0L136.4 1022.8L137.5 1022.7L138.6 1016.9L139.6 1022.3L140.7 1021.6L141.7 1032.8L142.8 1024.7L143.9 1022.0L144.9 1021.9L146.0 1020.5L147.0 1019.2L148.1 1021.4L149.1 1024.1L150.2 1022.1L151.3 1025.4L152.4 1021.8L153.4 1022.4L154.5 1027.0L155.6 1023.6L156.6 1019.7L157.7 1020.4L158.8 1023.0L159.8 1027.0L160.9 1019.8L162.0 1019.5L163.1 1022.9L164.1 1016.9L165.2 1018.5L166.3 1022.3L167.3 1021.3L168.4 1020.1L169.5 1020.3L170.6 1009.8L171.6 1022.6L172.7 1015.0L173.8 1012.6L174.9 1018.8L175.9 1020.3L177.0 1016.4L178.1 1011.7L179.2 1017.7L180.2 1018.1L181.3 1026.1L182.4 1020.8L183.5 1019.2L184.5 1021.9L185.6 1017.8L186.7 1015.7L187.8 1020.7L188.9 1021.2L190.0 1018.6L191.0 1017.1L192.1 1019.9L193.2 1012.2L194.2 1022.2L195.3 1022.1L196.3 1015.7L197.3 1020.6L198.4 1018.3L199.6 1023.2L200.7 1014.8L201.8 1018.4L202.9 1024.2L204.1 1025.4L205.1 1015.1L206.2 1020.1L207.2 1023.2L208.2 1021.0L209.1 1030.9L210.0 1019.6L211.0 1024.0L211.9 1021.0L212.8 1029.1L213.6 1025.5L214.4 1024.2L215.2 1020.8L216.0 1031.3L216.5 1028.8L217.0 1028.2L217.4 1028.7L217.8 1025.2L218.3 1020.8L218.7 1019.0L219.1 1018.5L219.5 1023.8L219.9 1014.0L220.3 1014.9L220.7 1014.1L221.1 1015.6L221.5 1015.2L221.9 1007.9L222.3 1005.1L222.8 1009.9L223.2 1013.2L223.7 1010.9L224.1 1008.1L224.6 1005.7L225.4 1006.5L226.1 1004.3L226.9 1006.5L227.7 1001.1L228.5 1003.1L229.3 1002.2L230.2 1004.0L231.1 1003.5L231.9 1017.1L232.8 1008.4L233.7 1007.8L234.6 997.2L235.5 1002.6L236.5 1001.8L237.4 1006.9L238.3 999.4L239.1 1010.6L240.0 1010.8L240.7 1003.1L241.6 1003.3L242.4 1003.4L243.1 1005.4L243.9 1007.0L244.6 1010.5L245.5 1003.5L246.2 1006.0L247.0 1005.8L247.7 1010.4L248.5 1008.3L249.3 1010.2L250.1 1003.4L251.0 1006.4L251.8 1006.0L252.7 1014.0L253.6 1012.3L254.4 1009.4L255.3 1009.6L256.2 1013.0L257.1 1009.9L258.0 1009.9L259.0 1017.0L259.9 1022.4L260.9 1014.5L261.8 1013.1L262.8 1011.4L263.8 1011.5L264.8 1017.9L265.8 1021.4L266.8 1016.7L267.8 1017.4L268.8 1016.6L269.8 1015.9L270.9 1010.4L271.9 1013.3L273.0 1014.9L274.1 1011.9L275.3 1012.3L276.5 1011.1L277.7 1011.9L278.6 1016.3L279.6 1012.5L280.6 1013.1L281.6 1016.3L282.7 1016.2L283.7 1018.6L284.8 1002.8L285.9 1015.5L287.0 1012.0L288.1 1013.9L289.3 1016.4L290.4 1017.0L291.6 1016.4L292.7 1014.2L293.9 1016.7L295.0 1012.9L296.2 1013.1L297.3 1014.2L298.5 1012.8L299.6 1014.6L300.7 1014.0L301.8 1014.6L302.8 1013.0L303.9 1012.6L304.9 1012.9L306.0 1013.1L307.0 1012.1L308.1 1012.6L309.1 1012.3L310.2 1013.2L311.2 1011.6L312.3 1012.5L313.3 1011.2L314.4 1010.8L315.4 1010.8L316.5 1010.4L317.5 1011.2L318.6 1011.8L319.6 1011.3L320.7 1011.4L321.7 1011.9L322.8 1011.0L323.8 1010.8L324.9 1010.3L325.9 1009.5L326.9 1011.0L328.0 1009.5L329.0 1011.1L330.1 1010.9L331.1 1011.7L332.2 1011.0L333.2 1010.6L334.3 1011.4L335.3 1011.0L336.4 1011.4L337.4 1011.7L338.5 1011.7L339.5 1011.8L340.6 1011.5L341.6 1012.0L342.7 1010.9L343.7 1012.3L344.8 1011.9L345.8 1013.5L346.9 1013.7L347.9 1011.6L349.0 1013.0L350.0 1012.9L351.1 1012.3L352.2 1013.3L353.3 1012.6L354.4 1011.7L355.5 1012.4L356.7 1012.7L357.8 1012.7L358.9 1011.8L360.0 1012.9L361.2 1012.9L362.3 1011.6L363.4 1011.7L364.5 1012.0L365.6 1011.7L366.7 1013.1L367.8 1012.0L368.9 1011.0L369.9 1011.0L371.0 1011.6L372.0 1013.1L373.1 1011.4L374.1 1011.5L375.2 1011.7L376.3 1011.5L377.4 1012.9L378.5 1011.1L379.6 1011.9L380.7 1011.7L381.8 1011.8L382.9 1010.7L383.9 1012.6L385.0 1011.5L386.0 1011.4L387.0 1010.8L388.0 1011.0L389.0 1011.9L390.0 1012.2L391.0 1012.1L391.9 1012.3L393.1 1012.3L394.2 1011.4L395.4 1011.8L396.5 1011.5L397.6 1011.0L398.6 1011.8L399.7 1011.7L400.7 1010.8L401.8 1010.3L402.8 1010.9L403.8 1011.5L404.9 1010.0L406.1 1009.7L407.2 1009.5L408.3 1010.0L409.4 1007.8L410.4 1009.0L411.4 1009.4L412.4 1008.1L413.3 1009.5L414.4 1009.2L415.3 1008.9L416.2 1009.7L417.1 1009.0L418.1 1009.8L418.9 1011.3L419.8 1009.4L420.7 1010.7L421.7 1009.1L422.6 1009.2L423.5 1007.9L424.4 1005.7L425.2 1006.2L426.0 1006.1L426.7 1004.5L427.4 1003.7L428.0 1004.0L428.7 1002.4L429.3 1001.4L430.0 1001.1L430.6 1000.7L431.2 999.4L431.7 998.9L432.2 998.0L432.7 997.0L433.2 996.1L433.7 995.2L434.1 994.3L434.6 993.3L435.1 992.4L435.5 991.4L435.9 990.4L436.3 989.5L436.7 988.5L437.1 987.6L437.5 986.6L437.8 985.6L438.2 984.6L438.5 983.6L438.8 982.6L439.1 981.6L439.3 980.6L439.6 979.6L439.9 978.6L440.1 977.6L440.4 976.7L440.7 975.7L441.0 974.6L441.2 973.4L441.4 972.2L441.6 971.0L441.9 969.8L442.1 968.7L442.4 967.7L442.7 966.8L443.2 966.1L443.7 965.6L444.6 965.2L445.7 965.0L446.9 965.0L448.1 965.2L449.2 965.6L450.2 966.2L450.7 966.8L451.1 967.5L451.5 968.5L451.8 969.5L452.1 970.7L452.3 972.0L452.5 973.2L452.8 974.5L453.0 975.8L453.3 977.0L453.6 978.1L454.0 979.1L454.4 979.9L455.0 980.5L455.9 981.1L456.9 981.5L457.9 981.8L459.1 982.0L460.2 982.0L461.3 982.0L462.4 981.9L463.3 981.7L464.2 981.4L465.1 980.9L465.9 980.3L466.7 979.7L467.4 978.9L468.1 978.1L468.6 977.3L469.1 976.3L469.6 975.1L470.0 973.9L470.4 972.7L470.8 971.6L471.2 970.7L471.7 970.1L472.3 969.8L473.0 969.9L473.8 970.3L474.6 971.0L475.5 971.9L476.4 972.8L477.2 973.9L478.0 974.8L478.8 975.7L479.6 976.5L480.3 977.3L481.0 978.2L481.7 979.0L482.4 979.9L483.0 980.8L483.6 981.7L484.0 982.6L484.4 983.5L484.8 984.4L485.1 985.4L485.4 986.4L485.8 987.4L486.1 988.3L486.6 989.2L487.1 990.0L487.8 990.9L488.5 991.6L489.2 992.8L490.1 993.3L491.0 994.4L492.0 993.6L493.1 995.1L493.9 995.6L494.7 995.1L495.7 995.7L496.7 996.0L497.7 996.0L498.8 995.5L499.9 995.8L501.0 996.4L502.2 996.6L503.4 995.9L504.5 995.9L505.7 995.9L506.8 996.2L507.9 995.1L509.0 994.8L510.0 995.4L511.0 994.8L512.1 994.9L513.1 995.2L514.2 995.2L515.2 994.3L516.1 995.1L517.1 993.5L518.1 994.2L519.0 993.0L520.0 992.9L520.9 993.7L521.9 992.8L522.9 992.6L524.0 992.4L525.1 992.8L526.1 992.4L527.2 992.2L528.3 992.5L529.4 991.4L530.5 991.3L531.6 991.2L532.6 992.0L533.7 991.9L534.8 991.9L535.9 991.2L537.0 991.1L538.0 991.6L539.1 991.1L540.2 991.8L541.2 991.8L542.3 991.3L543.4 991.7L544.5 991.9L545.6 993.2L546.7 993.8L547.7 992.7L548.8 992.9L549.8 992.2L550.9 993.8L552.0 994.2L553.1 994.2L554.2 995.5L555.3 994.8L556.4 995.9L557.4 996.5L558.4 996.3L559.3 997.7L560.2 998.0L561.0 997.0L562.1 997.1L563.2 998.2L564.1 997.9L565.0 997.3L566.0 997.8" fill="none" stroke="#f00" stroke-width="6.4" stroke-linejoin="round" stroke-linecap="butt"/>
<path d="M590.4 972.6L591.3 974.0L592.2 977.8L593.1 975.9L594.1 971.6L595.0 974.6L595.9 973.9L596.9 975.2L597.9 972.1L598.9 975.5L600.0 975.8L601.1 978.2L602.1 976.5L603.2 975.7L604.2 972.4L605.2 979.2L606.2 972.3L607.1 978.2L608.0 976.5L608.9 976.0L609.8 977.2L610.7 978.0L611.5 980.5L612.4 980.1L613.2 982.4L614.0 975.8L614.8 978.0L615.6 975.8L616.3 977.6L617.1 968.5L617.9 973.8L618.7 974.4L619.5 971.2L620.4 977.1L621.2 975.2L622.1 977.4L623.0 977.9L623.9 974.9L624.8 975.8L625.7 977.9L626.7 981.5L627.7 980.8L628.8 977.8L629.9 977.8L631.1 977.5L632.2 977.0L633.2 978.8L634.2 979.6L635.0 984.0L635.7 980.0L636.2 981.1L636.7 983.5L637.1 982.0L637.5 984.0L638.0 985.8L638.6 987.3L639.3 983.6L640.0 988.0L640.9 984.4L641.8 984.7L642.7 984.9L643.6 983.7L644.5 983.5L645.4 981.1L646.2 980.2L646.9 980.5L647.7 978.6L648.3 983.3L648.9 980.7L649.5 981.1L650.1 988.4L650.8 985.3L651.7 982.5L652.5 989.6L653.4 985.8L654.3 987.8L655.3 982.9L656.4 984.2L657.4 980.9L658.5 979.9L659.6 981.4L660.6 983.1L661.5 986.4L662.4 987.8L663.5 981.6L664.5 985.3L665.4 983.0L666.4 983.9L667.3 981.6L668.3 981.5L669.0 981.2L669.8 981.5L670.6 983.0L671.4 981.2L672.1 983.9L672.9 981.1L673.7 980.2L674.5 981.3L675.2 979.5L676.0 977.8L676.7 977.4L677.6 977.6L678.4 980.2L679.3 980.2L680.1 980.1L680.9 981.3L681.8 979.6L682.6 981.9L683.3 979.3L684.0 986.8L684.7 983.9L685.5 984.8L686.2 986.5L686.9 986.2L687.6 986.6L688.3 989.9L689.1 988.3L689.8 986.6L690.8 988.8L691.8 985.1L692.9 990.8L693.9 987.1L694.8 987.0L695.7 990.8L696.4 990.0L696.9 985.2L697.4 985.1L697.9 985.3L698.5 985.4L699.3 981.2L700.0 981.1L700.9 982.7L701.9 980.5L702.9 980.8L704.0 979.9L705.1 976.0L706.2 974.1L707.3 972.3L708.3 976.8L709.2 981.7L710.0 975.8L710.8 980.5L711.6 981.0L712.2 979.8L712.9 980.7L713.5 981.6L714.1 980.5L714.8 981.7L715.4 982.1L716.0 983.0L716.6 982.4L717.2 978.7L717.8 980.2L718.4 975.2L719.1 976.1L719.7 976.1L720.4 974.3L721.1 973.3L721.9 973.3L722.9 971.4L723.9 970.9L725.0 972.0L726.1 974.3L727.2 972.7L728.3 976.3L729.3 972.5L730.2 965.7L730.8 970.1L731.3 973.7L731.7 969.9L732.2 967.8L732.6 966.2L732.9 969.4L733.3 967.9L733.6 965.9L733.9 964.3L734.3 965.0L734.6 962.4L734.9 957.3L735.3 959.8L735.6 958.0L736.0 956.2L736.5 956.8L736.9 954.0L737.4 948.2L738.2 955.8L739.1 954.6L740.1 951.5L741.1 950.6L742.0 951.0L742.9 947.9L743.8 950.1L744.5 948.5L745.0 947.4L745.5 945.4L745.9 945.2L746.2 947.9L746.5 949.5L746.8 944.8L747.0 942.4L747.4 939.9L747.7 942.0L748.1 944.7L748.5 935.8L748.9 939.4L749.2 932.4L749.6 934.6L750.0 935.1L750.5 928.6L750.9 929.3L751.3 931.8L751.8 932.3L752.3 929.1L752.8 931.4L753.4 927.1L754.0 931.0L754.9 927.6L755.9 927.7L757.0 927.8L758.1 927.4L759.2 930.2L760.2 930.6L761.2 926.6L761.8 924.2L762.3 921.4L762.8 921.3L763.3 921.9L763.7 920.7L764.1 919.7L764.5 918.8L765.0 918.3L765.4 913.6L765.8 913.2L766.2 916.4L766.7 915.0L767.2 911.6L767.7 914.0L768.3 909.8L769.2 909.5L770.3 906.5L771.3 911.2L772.4 909.9L773.5 911.7L774.5 910.8L775.5 908.9L776.1 908.5L776.7 909.6L777.3 906.1L777.8 904.9L778.3 904.4L778.9 904.8L779.4 904.2L779.9 904.8L780.4 900.2L781.0 903.1L781.6 897.3L782.2 898.9L782.9 898.1L783.7 901.0L784.5 899.2L785.4 897.5L786.3 900.0L787.3 900.4L788.2 899.9L789.2 900.7L790.2 900.8L791.1 908.4L792.0 904.6L792.8 906.0L793.5 902.1L794.2 902.0L794.8 903.5L795.4 903.0L795.9 903.5L796.3 899.1L796.6 900.7L797.0 901.2L797.3 895.6L797.7 897.6L798.1 893.6L798.5 895.7L798.9 897.2L799.3 899.2L799.7 895.5L800.1 898.0L800.5 900.8L800.9 898.0L801.4 901.1L801.8 900.9L802.3 902.6L802.8 906.5L803.3 908.0L803.9 912.2L804.5 912.9L805.2 909.9L806.0 906.7L806.9 905.7L807.8 905.5L808.7 900.5L809.6 906.8L810.5 902.0L811.4 900.3L812.3 901.3L813.2 904.0L814.0 906.7L814.8 902.3L815.6 904.3L816.4 904.1L817.1 903.2L817.9 906.3L818.7 906.8L819.5 904.9L820.2 910.2L821.0 906.0L821.8 909.1L822.7 906.7L823.5 906.6L824.4 906.4L825.2 908.1L826.1 903.6L827.0 904.8L827.8 907.3L828.7 902.5L829.5 903.1L830.4 904.3L831.2 902.3L832.0 904.5L832.9 903.3L833.7 906.6L834.5 906.3L835.3 905.6L836.1 910.8L836.9 909.0L837.6 908.9L838.3 908.0L839.0 908.9L839.6 909.5L840.2 909.5L840.6 910.1L841.1 904.4L841.5 905.0L841.9 906.8L842.4 903.8L842.9 903.3L843.5 904.7L844.2 902.7L845.0 901.9L845.8 901.4L846.7 905.3L847.6 904.5L848.6 901.7L849.6 904.5L850.6 902.3L851.6 907.1L852.7 907.1L853.6 905.6L854.6 904.9L855.5 902.4L856.4 906.8L857.3 904.9L858.2 904.0L859.1 905.2L860.0 901.9L860.9 901.1L861.9 900.1L862.9 898.6L863.9 905.1L864.9 899.9L865.8 899.1L866.9 900.5L868.0 892.8L869.1 898.0L870.2 898.1L871.4 896.0L872.6 898.0L873.8 893.3L874.9 896.7L876.0 898.2L877.1 892.1L878.1 893.2L879.0 895.8L879.8 896.1L880.5 895.1L881.5 897.3L882.4 897.5L883.1 895.0L883.9 897.1L884.4 894.5L884.8 892.2L885.3 891.2L885.7 896.9L886.2 894.3L886.6 896.8L887.1 889.3L887.5 889.9L888.0 890.2L888.5 888.3L889.0 888.4L889.6 886.7L890.2 884.0L890.8 880.0L891.7 882.3L892.6 887.3L893.7 885.5L894.8 886.1L895.8 882.1L896.9 882.3L897.9 879.7L898.8 882.7L899.5 881.8L900.0 881.7L900.4 882.3L900.7 878.0L900.9 878.4L901.1 875.1L901.3 876.5L901.6 873.9L901.9 873.2L902.3 872.9L902.9 873.7L903.7 871.5L904.6 870.6L905.6 869.9L906.7 871.5L907.8 870.6L909.0 871.1L910.2 871.8L911.3 872.5L912.3 871.0L913.3 872.2L914.0 872.8L914.7 868.8L915.3 871.1L915.9 871.1L916.5 867.3L917.0 867.3L917.6 864.3L918.1 865.0L918.6 863.4L919.2 862.9L919.8 860.6L920.5 859.8L921.1 859.3L921.9 858.3L922.7 857.2L923.6 857.7L924.5 856.2L925.5 856.8L926.5 856.9L927.5 853.5L928.6 855.6L929.6 854.3L930.7 853.4L931.7 852.8L932.6 852.9L933.5 852.7L934.3 853.4L935.1 851.5L935.7 853.8L936.5 850.7L937.1 851.3L937.6 850.7L938.1 847.5L938.6 850.1L939.2 850.3L939.9 847.8L940.5 849.4L941.3 849.7L942.0 850.9L942.7 851.6L943.5 852.1L944.3 853.8L945.0 853.8L945.7 852.3L946.4 853.1L947.1 851.7L947.9 850.0L948.6 847.5L949.5 849.3L950.3 847.9L951.3 843.6L952.2 844.4L953.1 845.4L954.1 847.3L955.1 848.0L956.2 846.8L957.3 847.9L958.4 848.8L959.6 847.3L960.7 849.7L961.8 849.3L962.9 850.0L964.0 849.8L965.0 848.6L966.0 848.6L967.0 849.4L967.9 849.1L968.9 848.1L969.8 848.8L970.8 846.5L971.7 844.7L972.6 844.9L973.5 844.5L974.4 844.1L975.3 844.9L976.2 844.0L977.1 844.3L978.1 843.8L979.2 843.2L980.2 844.7L981.2 843.8L982.2 844.6L983.2 843.8L984.1 845.1L985.0 844.9L985.8 845.6L986.4 846.9L986.9 846.9L987.3 844.5L987.7 842.3L988.0 842.1L988.3 840.3L988.7 838.3L989.0 837.6L989.4 836.4L989.8 835.1L990.4 837.3L991.0 833.5L991.7 832.8L992.5 833.5L993.3 831.5L994.2 830.5L995.2 830.5L996.1 831.7L997.1 831.7L998.1 830.8L999.2 829.2L1000.2 828.8L1001.1 830.1L1002.1 827.3L1003.0 827.8L1003.8 826.2L1004.7 826.2L1005.5 826.4L1006.3 827.0L1007.1 822.2L1008.0 825.7L1008.8 822.9L1009.6 823.3L1010.4 823.1L1011.2 820.7L1012.0 820.7L1012.8 820.6L1013.5 819.2L1014.3 817.9L1015.1 818.2L1015.9 817.3L1016.7 815.1L1017.5 817.4L1018.3 815.4L1019.1 811.8L1019.9 812.9L1020.7 815.3L1021.5 814.6L1022.2 812.3L1023.0 809.4L1023.8 810.3L1024.7 811.2L1025.5 809.9L1026.3 808.3L1027.2 807.3L1028.0 808.3L1028.9 806.8L1029.7 806.7L1030.6 806.4L1031.5 807.0L1032.4 804.9L1033.3 804.1L1034.1 801.4L1035.0 803.9L1035.9 803.1L1036.7 801.3L1037.6 798.1L1038.4 799.3L1039.2 799.7L1040.0 801.3L1040.8 799.1L1041.6 798.6L1042.4 798.0L1043.1 797.7L1043.9 794.3L1044.7 793.7L1045.5 792.7L1046.3 793.0L1047.1 792.3L1047.9 792.0L1048.8 789.3L1049.6 790.4L1050.3 789.0L1051.1 791.3L1051.8 788.1L1052.6 790.4L1053.3 788.6L1054.1 784.7L1054.9 786.0L1055.6 784.8L1056.4 781.6L1057.2 782.9L1058.0 781.5L1058.8 780.9L1059.6 779.1L1060.4 778.9L1061.2 778.4L1062.0 777.2L1062.8 776.2L1063.6 775.7L1064.3 774.6L1065.1 774.5L1065.9 772.6L1066.7 774.0L1067.6 772.8L1068.6 772.4L1069.5 772.0L1070.4 770.5L1071.3 771.6L1072.2 769.6L1073.2 769.9L1074.1 769.5L1075.0 769.6L1076.0 768.6L1076.9 767.6L1077.9 768.1L1079.0 766.5L1080.0 767.4L1081.0 767.3L1081.9 768.2L1082.9 767.3L1084.0 767.1L1085.0 767.0L1086.0 767.1L1087.1 767.4L1088.2 768.1L1089.3 767.3L1090.4 767.9L1091.4 767.5L1092.5 768.3L1093.6 768.5L1094.7 767.5L1095.8 768.3L1096.9 768.8L1097.9 769.1L1099.0 769.1L1100.1 768.4L1101.1 767.7L1102.2 767.3L1103.3 768.3L1104.4 768.4L1105.5 767.6L1106.6 767.8L1107.6 766.5L1108.7 766.2L1109.8 766.8L1110.9 765.3L1111.9 765.7L1113.0 765.3L1114.0 765.0L1115.0 765.4L1116.0 763.8L1117.0 763.7L1118.0 762.6L1119.1 763.0L1120.2 763.2L1121.3 763.3L1122.4 763.4L1123.4 763.6L1124.5 763.1L1125.5 762.4L1126.5 763.5L1127.5 763.5L1128.5 762.6L1129.5 762.5L1130.4 763.4L1131.4 762.7L1132.1 762.2L1132.7 761.4L1133.3 760.5L1134.0 759.5L1134.6 759.2L1135.1 758.1L1135.7 757.1L1136.3 756.4L1136.8 755.5L1137.4 755.0L1137.9 753.0L1138.5 753.8L1139.0 751.1L1139.6 750.3L1140.1 749.9L1140.7 748.0L1141.2 747.1L1141.8 746.2L1142.3 743.8L1142.9 743.6L1143.5 742.8L1144.1 742.2L1144.7 741.8L1145.4 741.3L1146.0 740.6L1146.7 739.9L1147.4 738.8L1148.2 737.5L1149.0 737.1L1149.7 735.4L1150.5 735.1L1151.4 735.1L1152.2 734.0L1153.0 732.1L1153.9 731.8L1154.7 731.9L1155.6 731.1L1156.4 730.6L1157.3 728.5L1158.1 728.0L1159.0 727.9L1159.8 727.0L1160.7 726.8L1161.6 726.3L1162.4 726.0L1163.2 725.2L1164.1 725.1L1164.9 724.7L1165.7 723.9L1166.8 722.7L1167.8 723.4L1168.9 722.6L1170.0 722.3L1171.0 721.7L1172.1 720.0L1173.2 721.3L1174.2 720.5L1175.3 719.9L1176.3 720.9L1177.3 719.9L1178.2 719.8L1179.1 719.9L1180.0 719.7L1181.0 717.4L1182.0 717.2L1182.8 717.2L1183.7 715.4L1184.5 713.8L1185.3 714.8L1186.2 714.5L1187.1 714.4L1188.0 713.8L1189.0 713.3L1190.0 714.1L1191.1 714.3L1192.2 714.5L1193.3 715.8L1194.4 716.4L1195.5 715.4L1196.5 717.7L1197.4 717.4L1198.0 716.7L1198.5 712.5L1199.0 714.8L1199.4 713.9L1199.9 712.2L1200.3 712.8L1200.7 709.8L1201.1 711.6L1201.4 709.6L1201.8 707.5L1202.2 708.4L1202.5 706.2L1202.9 704.6L1203.2 701.6L1203.6 702.4L1204.0 702.4L1204.4 700.7L1204.8 697.1L1205.3 699.0L1205.8 698.4L1206.3 696.6L1206.8 694.3L1207.5 692.1L1208.3 691.8L1209.1 691.4L1210.0 691.6L1210.9 691.1L1211.7 688.8L1212.6 687.1L1213.5 687.7L1214.4 686.4L1215.2 688.7L1216.0 685.8L1216.8 687.4L1217.5 687.7L1218.4 686.0L1219.1 688.6L1219.9 688.2L1220.6 688.2L1221.3 688.8L1222.1 690.7L1222.9 691.8L1223.6 688.6L1224.4 690.7L1225.2 689.4L1226.1 687.9L1226.9 687.7L1227.8 687.0L1228.7 686.1L1229.6 686.2L1230.5 683.9L1231.3 686.5L1232.2 685.2L1233.1 683.3L1234.1 682.0L1235.1 684.4L1236.1 684.7L1237.0 686.6L1238.0 687.4L1239.0 689.3L1239.9 687.9L1240.8 689.5L1241.6 689.0L1242.2 689.8L1242.8 692.6L1243.4 691.6L1243.9 692.4L1244.4 693.0L1245.0 694.7L1245.4 696.0L1245.9 696.1L1246.4 695.0L1246.9 698.4L1247.4 698.2L1247.9 699.7L1248.4 701.3L1249.0 702.1L1249.6 700.4L1250.2 705.6L1250.8 705.8L1251.4 707.9L1252.1 709.2L1252.7 706.1L1253.3 707.1L1254.0 708.9L1254.7 710.4L1255.3 709.7L1256.0 710.7L1256.7 712.9L1257.4 711.2L1258.2 713.8L1258.9 715.5L1259.6 715.2L1260.4 717.0L1261.0 716.9L1261.6 716.4L1262.2 717.6L1262.8 719.2L1263.4 720.0L1264.0 721.2L1264.6 722.4L1265.2 723.2L1265.8 724.0L1266.5 724.5L1267.1 725.6L1267.8 726.4L1268.4 727.3L1269.1 729.5L1269.7 728.2L1270.4 730.5L1271.1 730.1L1271.8 731.8L1272.5 733.8L1273.2 734.0L1273.9 736.0L1274.6 735.2L1275.3 736.3L1276.1 736.9L1276.8 738.1L1277.6 738.6L1278.3 739.3L1279.1 740.4L1280.0 741.8L1280.9 741.8L1281.8 742.2L1282.7 742.5L1283.7 742.7L1284.7 742.6L1285.6 743.4L1286.6 744.7L1287.6 743.8L1288.6 746.1L1289.6 745.8L1290.6 745.8L1291.6 746.5L1292.6 747.9L1293.7 748.1L1294.7 748.5L1295.7 750.2L1296.6 750.9L1297.6 748.7L1298.6 750.5L1299.6 749.8L1300.5 749.8L1301.5 751.1L1302.4 752.8L1303.4 752.4L1304.4 752.9L1305.3 754.8L1306.3 754.8L1307.2 755.0L1308.2 756.9L1309.1 756.5L1310.1 756.0L1311.0 756.2L1311.9 757.3L1312.8 758.4L1313.8 760.2L1314.7 760.1L1315.6 759.9L1316.5 759.5L1317.5 761.5L1318.4 761.4L1319.3 760.9L1320.3 761.3L1321.3 763.0L1322.4 763.7L1323.4 764.6L1324.4 763.7L1325.4 766.4L1326.4 764.3L1327.4 766.1L1328.4 767.7L1329.4 767.9L1330.4 766.8L1331.4 768.3L1332.4 769.1L1333.4 768.9L1334.4 767.8L1335.4 769.6L1336.4 767.2L1337.4 768.2L1338.4 767.2L1339.4 767.4L1340.3 767.2L1341.3 767.4L1342.3 765.7L1343.3 766.4L1344.3 766.7L1345.3 765.3L1346.3 765.0L1347.3 764.3L1348.3 762.9L1349.3 762.5L1350.4 762.3L1351.4 762.2L1352.3 763.0L1353.1 762.2L1354.0 760.1L1355.0 759.4L1355.9 758.4L1356.8 757.0L1357.8 759.2L1358.7 758.2L1359.7 755.7L1360.6 756.7L1361.6 758.0L1362.6 756.1L1363.5 755.4L1364.5 754.5L1365.4 753.1L1366.3 752.2L1367.2 751.9L1368.1 752.0L1369.0 751.2L1369.8 751.4L1370.6 751.6L1371.4 750.2L1372.2 749.6L1372.9 748.1L1373.8 746.7L1374.6 748.4L1375.4 746.6L1376.1 745.8L1376.8 743.6L1377.5 741.7L1378.1 742.8L1378.8 739.5L1379.4 739.9L1380.0 738.9L1380.7 738.8L1381.4 738.6L1382.1 737.8L1382.8 735.1L1383.6 736.8L1384.6 734.5L1385.6 736.0L1386.7 735.0L1387.7 734.3L1388.8 734.7L1389.9 734.3L1391.0 735.5L1392.1 737.0L1393.2 736.6L1394.3 736.4L1395.2 737.5L1396.1 737.7L1397.0 739.5L1397.9 739.0L1398.7 738.8L1399.6 739.8L1400.5 740.4L1401.4 741.6L1402.3 742.6L1403.2 744.1L1404.1 744.8L1405.0 744.9L1405.9 745.5L1406.8 744.9L1407.7 745.0L1408.6 743.6L1409.5 744.7L1410.4 745.0L1411.3 746.9L1412.2 743.6L1413.1 744.0L1414.0 743.1L1414.9 741.6L1415.8 742.3L1416.7 741.4L1417.6 739.4L1418.5 738.0L1419.3 738.9L1420.2 737.3L1421.1 738.1L1421.8 736.9L1422.5 736.7L1423.2 735.4L1423.9 735.9L1424.6 734.5L1425.3 734.0L1426.0 731.9L1426.6 729.8L1427.3 728.5L1428.0 728.2L1428.7 727.7L1429.4 726.2L1430.1 727.4L1430.7 724.6L1431.4 723.9L1432.1 722.6L1432.7 720.8L1433.4 721.7L1434.0 720.7L1434.7 720.1L1435.3 717.7L1435.9 718.3L1436.6 718.0L1437.2 718.5L1438.3 716.4L1439.3 718.0L1440.4 718.8L1441.4 717.9L1442.4 718.0L1443.4 720.0L1444.3 719.4L1445.2 719.9L1446.0 719.2L1446.6 718.6L1447.2 716.6L1447.7 714.1L1448.3 715.0L1448.9 713.0L1449.7 713.3L1450.6 712.0L1451.3 713.2L1452.1 711.8L1453.0 712.5L1454.0 712.7L1455.0 711.9L1456.1 712.2L1457.2 712.1L1458.4 711.6L1459.5 713.5L1460.7 711.4L1461.9 711.5L1463.0 712.5L1464.2 713.1L1465.3 713.1L1466.4 712.7L1467.4 712.3L1468.4 710.9L1469.3 712.7L1470.1 713.1L1470.9 710.6L1471.7 709.1L1472.4 710.2L1473.1 708.6L1473.8 704.8L1474.4 706.2L1475.0 704.9L1475.7 704.2L1476.3 705.7L1476.9 704.0L1477.5 702.0L1478.1 701.1L1478.7 702.1L1479.3 698.3L1480.0 698.6L1480.6 696.7L1481.3 697.5L1482.0 695.7L1482.7 694.3L1483.5 694.9L1484.4 693.9L1485.3 694.0L1486.2 691.5L1487.1 691.0L1488.0 689.8L1488.9 690.4L1489.8 688.3L1490.8 688.3L1491.7 688.9L1492.6 687.9L1493.5 687.3L1494.4 687.1L1495.3 687.1L1496.1 687.4L1496.8 686.7L1497.5 685.8L1498.2 688.6L1498.9 687.6L1499.6 690.3L1500.3 690.1L1501.0 693.0L1501.7 692.3L1502.3 692.5L1503.0 694.2L1503.7 692.9L1504.3 695.0L1505.0 695.7L1505.6 696.9L1506.3 696.3L1506.9 697.2L1507.6 700.5L1508.2 701.1L1508.9 701.6L1509.5 702.7L1510.1 703.2L1510.7 704.3L1511.3 706.1L1511.9 706.4L1512.6 708.0L1513.2 707.8L1513.8 707.8L1514.4 709.7L1515.0 711.1L1515.6 711.4L1516.2 712.9L1516.8 713.7L1517.3 716.1L1517.9 717.1L1518.5 718.2L1519.1 717.7L1519.6 719.7L1520.2 721.2L1520.8 721.2L1521.3 721.8L1521.8 722.1L1522.4 724.1L1522.9 724.5L1523.5 726.1L1524.1 726.3L1524.7 728.9L1525.3 728.2L1525.8 728.1L1526.3 730.1L1526.9 731.3L1527.4 732.7L1528.0 732.0L1528.7 732.5L1529.3 733.5L1530.1 733.8L1530.9 732.5L1531.8 736.2L1532.7 737.4L1533.6 735.1L1534.7 734.8L1535.7 736.0L1536.8 735.5L1538.0 737.5L1539.1 736.0L1540.2 737.4L1541.4 735.0L1542.6 734.7L1543.7 734.6L1544.8 735.1L1545.9 737.9L1547.0 738.9L1548.0 738.3L1548.9 738.5L1549.9 736.0L1550.9 740.4L1551.8 738.4L1552.8 742.2L1553.7 744.2L1554.7 741.7L1555.6 742.8L1556.6 743.2L1557.5 741.1L1558.5 741.7L1559.4 742.9L1560.3 744.7L1561.3 746.1L1562.2 745.7L1563.1 748.1L1564.1 745.4L1565.2 743.2L1566.2 746.7L1567.2 747.0L1568.2 745.7L1569.1 749.0L1570.1 746.9L1571.1 747.4L1572.1 748.8L1573.2 747.6L1574.3 750.0L1575.4 750.1L1576.5 750.4L1577.5 749.9L1578.5 749.4L1579.6 749.4L1580.7 751.2L1581.9 752.9L1583.0 752.5L1584.2 752.3L1585.5 753.4L1586.7 753.9L1587.9 750.9L1589.1 752.6L1590.2 755.5L1591.4 752.2L1592.5 752.1L1593.6 753.9L1594.6 753.0L1595.5 754.6L1596.4 752.7L1597.2 753.8L1597.9 756.0L1598.7 753.5L1599.4 749.3L1599.9 748.5L1600.3 747.6L1600.7 747.6L1601.1 745.0L1601.5 746.5L1602.0 747.2L1602.5 746.0L1603.3 742.2L1604.1 742.1L1604.9 741.7L1605.8 740.9L1606.8 743.7L1607.9 740.6L1608.9 739.8L1610.0 741.6L1611.1 741.7L1612.3 743.2L1613.4 743.1L1614.5 740.4L1615.6 737.9L1616.6 741.2" fill="none" stroke="#f00" stroke-width="6.4" stroke-linejoin="round" stroke-linecap="butt"/>
<path d="M132.2 1074.9L133.3 1074.8L134.3 1074.7L135.4 1074.6L136.4 1074.5L137.5 1074.4L138.6 1074.3L139.6 1074.2L140.7 1074.2L141.7 1074.1L142.8 1074.0L143.9 1073.9L144.9 1073.8L146.0 1074.2L147.0 1073.7L148.1 1070.0L149.1 1072.5L150.2 1070.8L151.3 1071.2L152.4 1071.2L153.5 1070.4L154.6 1074.1L155.7 1072.0L156.7 1070.0L157.8 1073.3L158.9 1075.9L160.0 1065.9L161.0 1069.7L162.1 1067.6L163.1 1069.8L164.2 1066.4L165.2 1070.6L166.3 1070.7L167.4 1069.6L168.4 1067.3L169.5 1069.3L170.5 1067.2L171.5 1066.7L172.6 1072.0L173.6 1068.6L174.6 1076.2L175.7 1074.6L176.8 1065.8L178.0 1072.6L179.0 1068.8L180.0 1072.3L181.0 1072.1L182.1 1065.5L183.1 1070.9L184.2 1071.6L185.3 1075.1L186.5 1068.4L187.6 1075.3L188.7 1068.1L189.8 1070.1L190.9 1069.0L192.0 1076.4L193.1 1074.4L194.2 1086.1L195.3 1074.2L196.3 1076.7L197.3 1073.9L198.4 1068.9L199.5 1070.6L200.5 1075.1L201.6 1069.4L202.6 1070.8L203.6 1070.2L204.6 1071.9L205.6 1068.6L206.6 1069.1L207.6 1070.4L208.6 1069.6L209.7 1066.6L210.7 1071.9L211.8 1064.7L212.8 1064.5L213.8 1064.9L214.8 1072.4L215.8 1068.3L216.9 1063.3L217.9 1065.8L219.0 1070.9L220.0 1063.6L221.1 1065.8L222.1 1072.0L223.2 1066.6L224.3 1069.3L225.3 1070.7L226.4 1069.4L227.4 1071.0L228.5 1075.5L229.5 1069.1L230.5 1065.8L231.6 1063.8L232.6 1069.0L233.7 1068.8L234.8 1070.4L235.8 1067.7L236.9 1067.0L237.9 1065.8L238.9 1066.2L240.0 1068.1L241.0 1066.2L242.1 1067.8L243.1 1073.5L244.1 1068.3L245.1 1058.0L246.1 1071.8L247.1 1067.5L248.2 1063.2L249.2 1069.1L250.2 1066.5L251.2 1064.2L252.2 1064.1L253.2 1063.4L254.2 1067.5L255.2 1071.3L256.2 1067.2L257.2 1070.1L258.3 1074.9L259.3 1065.2L260.4 1069.6L261.6 1068.0L262.5 1065.4L263.5 1065.7L264.4 1069.5L265.4 1071.2L266.4 1068.5L267.4 1070.3L268.5 1072.0L269.5 1071.2L270.6 1072.0L271.6 1071.3L272.7 1071.3L273.8 1071.6L274.9 1071.0L276.0 1071.1L277.1 1071.2L278.2 1071.3L279.3 1071.3L280.3 1071.4L281.4 1071.5L282.5 1071.9L283.6 1071.6L284.6 1071.4L285.7 1072.3L286.8 1072.1L287.9 1071.4L289.0 1072.4L290.1 1071.8L291.2 1070.8L292.3 1071.4L293.4 1071.5L294.5 1072.5L295.6 1071.3L296.7 1071.3L297.8 1071.3L298.8 1071.3L299.9 1071.0L301.0 1071.6L302.1 1072.0L303.2 1071.9L304.3 1070.8L305.4 1070.6L306.5 1071.1L307.6 1070.7L308.7 1070.5L309.8 1070.1L310.8 1071.8L311.9 1071.3L312.9 1070.2L314.0 1071.0L315.0 1071.1L316.1 1069.1L317.1 1069.8L318.2 1069.9L319.2 1070.3L320.3 1069.8L321.3 1069.6L322.4 1069.7L323.4 1070.6L324.5 1070.6L325.5 1069.1L326.6 1068.5L327.6 1071.3L328.7 1068.5L329.7 1068.5L330.8 1068.8L331.8 1069.0L332.9 1069.1L333.9 1068.7L335.0 1068.0L336.1 1068.6L337.2 1068.5L338.3 1069.9L339.4 1068.1L340.5 1066.8L341.6 1067.4L342.7 1068.6L343.8 1067.5L344.9 1066.6L346.0 1067.3L347.1 1067.7L348.2 1068.2L349.3 1067.2L350.4 1067.9L351.5 1068.3L352.6 1067.2L353.7 1067.5L354.8 1068.6L355.9 1068.6L356.9 1068.2L358.0 1068.0L359.1 1068.4L360.2 1067.8L361.3 1067.9L362.4 1067.7L363.5 1068.2L364.6 1068.5L365.7 1070.0L366.8 1068.9L367.9 1069.7L368.9 1069.9L370.0 1069.3L371.1 1070.0L372.2 1068.6L373.2 1069.9L374.2 1070.7L375.2 1069.0L376.2 1069.8L377.2 1071.4L378.2 1070.6L379.1 1070.3L380.0 1070.7L381.2 1070.9L382.3 1071.7L383.4 1071.7L384.5 1071.4L385.5 1071.3L386.5 1071.7L387.5 1072.5L388.6 1072.2L389.6 1072.3L390.7 1071.9L391.9 1071.4L392.9 1071.5L393.8 1072.5L394.8 1072.2L395.8 1071.7L396.8 1071.4L397.8 1072.2L398.9 1072.1L399.9 1072.0L401.0 1072.1L402.1 1072.4L403.1 1072.4L404.2 1073.1L405.3 1072.8L406.4 1072.9L407.6 1072.6L408.7 1072.0L409.8 1072.1L410.8 1072.3L411.9 1072.0L413.0 1072.4L414.2 1072.7L415.4 1071.6L416.6 1071.2L417.8 1072.6L419.0 1072.2L420.2 1072.4L421.5 1071.5L422.7 1072.9L423.9 1072.5L425.1 1071.9L426.2 1071.8L427.3 1071.9L428.4 1071.7L429.4 1071.5L430.4 1071.1L431.3 1072.1L432.1 1071.4L432.9 1071.2L433.6 1070.9L434.6 1069.3L435.5 1070.2L436.2 1069.0L436.8 1068.4L437.5 1068.1L438.3 1067.6L439.1 1068.5L439.9 1068.5L440.7 1069.2L441.6 1070.1L442.4 1071.2L443.3 1072.2L444.2 1073.0L445.1 1073.8L445.9 1074.3L446.7 1074.5L447.6 1074.4L448.5 1074.2L449.4 1073.8L450.3 1073.2L451.1 1072.5L451.9 1071.8L452.6 1071.0L453.1 1070.3L453.5 1069.4L453.8 1068.4L454.1 1067.3L454.3 1066.2L454.6 1065.0L454.8 1063.9L455.1 1062.8L455.4 1061.8L455.8 1060.9L456.2 1060.2L456.9 1059.5L457.8 1059.0L458.7 1058.6L459.5 1058.1L460.3 1057.6L461.0 1056.7L461.3 1056.1L461.5 1055.3L461.7 1054.5L461.9 1053.6L462.0 1052.6L462.0 1051.6L462.1 1050.5L462.1 1049.3L462.1 1048.1L462.1 1046.9L462.1 1045.7L462.0 1044.5L462.0 1043.2L462.0 1042.0L461.9 1040.8L461.9 1039.6L461.9 1038.4L462.0 1037.3L462.0 1036.2L462.1 1035.2L462.2 1034.0L462.3 1032.8L462.4 1031.6L462.5 1030.3L462.6 1029.0L462.6 1027.7L462.7 1026.4L462.9 1025.2L463.0 1024.1L463.2 1023.1L463.4 1022.1L463.6 1021.3L463.8 1020.6L464.1 1020.1L464.5 1019.8L465.3 1019.6L466.3 1019.8L467.2 1020.3L468.1 1021.0L468.5 1021.5L468.8 1022.2L469.1 1023.0L469.4 1023.9L469.6 1024.9L469.8 1025.9L470.0 1027.0L470.2 1028.2L470.4 1029.4L470.6 1030.6L470.9 1031.8L471.1 1033.0L471.4 1034.1L471.7 1035.2L472.0 1036.2L472.3 1037.3L472.7 1038.4L473.0 1039.6L473.4 1040.8L473.7 1042.0L474.1 1043.3L474.5 1044.5L474.9 1045.7L475.3 1046.9L475.7 1048.0L476.1 1049.1L476.5 1050.0L476.9 1050.9L477.4 1051.7L477.9 1052.3L478.3 1052.8L478.8 1053.1L479.8 1053.4L480.8 1053.4L481.9 1053.1L482.8 1052.6L483.6 1051.9L483.9 1051.4L484.2 1050.6L484.4 1049.8L484.5 1048.8L484.6 1047.7L484.6 1046.5L484.6 1045.3L484.6 1044.1L484.5 1042.8L484.5 1041.5L484.5 1040.3L484.5 1039.1L484.5 1037.9L484.5 1036.9L484.6 1036.0L484.8 1035.2L485.2 1033.9L485.6 1032.7L486.0 1031.6L486.6 1030.8L487.1 1030.5L487.6 1030.7L488.2 1031.2L488.9 1032.0L489.5 1033.0L490.1 1034.1L490.7 1035.2L491.0 1036.0L491.3 1036.8L491.6 1037.8L491.8 1038.8L492.0 1039.9L492.2 1041.0L492.3 1042.1L492.5 1043.3L492.8 1044.4L493.0 1045.5L493.2 1046.6L493.5 1047.6L493.9 1048.6L494.3 1049.5L494.8 1050.5L495.4 1051.5L496.1 1052.4L496.7 1053.4L497.4 1054.2L498.2 1055.1L498.9 1055.9L499.7 1056.6L500.6 1057.4L501.4 1057.7L502.2 1058.5L503.1 1058.7L504.0 1059.4L504.9 1059.5L505.8 1059.9L506.8 1060.4L507.8 1061.1L508.8 1060.7L509.9 1061.0L511.0 1061.7L511.9 1061.5L512.8 1062.2L513.8 1062.0L514.8 1062.0L515.8 1062.2L516.8 1062.6L517.9 1062.4L519.0 1062.4L520.1 1062.4L521.2 1061.7L522.3 1062.2L523.4 1062.8L524.5 1062.7L525.6 1062.7L526.7 1062.8L527.7 1062.4L528.8 1062.7L529.9 1062.4L530.9 1062.8L531.9 1062.5L533.0 1062.6L534.0 1062.8L535.1 1062.6L536.1 1062.9L537.2 1062.8L538.2 1062.8L539.3 1063.0L540.3 1062.3L541.4 1062.2L542.4 1062.8L543.5 1062.9L544.6 1063.2L545.6 1062.9L546.7 1062.8L547.8 1062.4L548.8 1062.8L549.9 1062.8L550.9 1062.3L552.0 1062.3L553.1 1062.6L554.2 1062.6L555.2 1061.8L556.3 1062.6L557.4 1062.7L558.5 1062.6L559.5 1062.7L560.6 1062.7L561.7 1062.4L562.8 1062.7L563.9 1062.5L564.9 1062.4L566.0 1062.6" fill="none" stroke="#00f" stroke-width="6.4" stroke-linejoin="round" stroke-linecap="butt"/>
<path d="M590.7 1090.5L591.7 1091.4L592.8 1083.6L593.8 1087.8L594.8 1090.5L595.9 1091.2L596.9 1090.2L598.0 1091.6L599.1 1089.6L600.2 1090.1L601.2 1089.5L602.2 1087.4L603.2 1088.2L604.2 1090.9L605.3 1089.9L606.4 1093.8L607.4 1094.6L608.5 1095.8L609.6 1093.0L610.6 1095.5L611.6 1091.7L612.6 1091.9L613.6 1093.9L614.7 1094.3L615.8 1090.9L616.9 1090.8L618.0 1094.7L619.1 1092.0L620.1 1096.6L621.1 1095.2L622.1 1094.7L623.1 1094.4L624.0 1095.2L625.0 1093.0L625.9 1094.4L626.8 1091.0L627.7 1090.6L628.5 1089.2L629.3 1090.7L630.0 1088.9L630.7 1086.8L631.2 1090.9L631.6 1085.9L632.0 1085.1L632.3 1085.2L632.5 1086.5L632.8 1082.1L633.1 1082.3L633.5 1080.1L633.9 1076.6L634.5 1080.0L635.3 1080.0L636.2 1077.2L637.1 1076.8L638.2 1073.7L639.2 1073.4L640.3 1075.6L641.2 1077.6L642.1 1075.9L642.9 1077.8L643.7 1079.8L644.3 1079.3L645.0 1081.3L645.6 1083.7L646.3 1079.9L647.1 1083.7L647.9 1079.9L648.9 1084.1L650.0 1083.8L651.1 1082.1L652.2 1080.8L653.4 1082.3L654.5 1081.6L655.5 1082.4L656.5 1081.0L657.6 1083.9L658.6 1081.8L659.5 1083.4L660.4 1083.9L661.2 1086.4L661.6 1081.2L661.9 1082.5L662.2 1084.6L662.4 1080.3L662.6 1078.0L662.8 1079.6L662.9 1077.6L663.0 1078.0L663.1 1073.7L663.2 1074.2L663.4 1074.0L663.5 1073.3L663.7 1068.4L664.0 1071.6L664.2 1066.5L664.6 1064.4L665.0 1065.1L665.8 1066.7L666.8 1065.9L667.8 1067.2L668.8 1067.5L669.8 1067.8L670.7 1066.9L671.4 1072.9L672.1 1064.1L672.7 1065.5L673.3 1068.8L673.9 1068.5L674.4 1067.2L675.1 1071.3L675.7 1072.3L676.4 1070.1L677.3 1076.8L678.2 1078.3L679.2 1078.2L680.2 1075.1L681.2 1076.2L682.1 1074.6L682.7 1077.4L683.4 1076.7L684.0 1079.4L684.6 1079.2L685.2 1082.6L685.8 1083.5L686.4 1084.8L687.0 1080.3L687.7 1080.7L688.3 1085.8L689.0 1084.8L689.8 1086.9L690.7 1087.2L691.7 1087.3L692.7 1088.8L693.7 1088.2L694.7 1087.7L695.8 1085.3L696.9 1089.7L698.1 1087.5L699.3 1088.4L700.2 1087.0L701.1 1088.4L702.0 1086.1L702.9 1085.8L703.9 1085.3L704.9 1083.4L706.0 1083.2L707.0 1083.7L708.1 1083.3L709.1 1080.7L710.2 1087.2L711.3 1081.0L712.3 1081.9L713.4 1086.4L714.4 1080.8L715.4 1082.7L716.4 1082.3L717.4 1080.2L718.3 1077.5L719.4 1077.1L720.5 1079.9L721.5 1080.5L722.6 1075.9L723.6 1079.7L724.6 1078.7L725.6 1082.5L726.7 1080.0L727.7 1078.0L728.7 1078.5L729.7 1079.4L730.7 1082.0L731.7 1084.7L732.6 1079.4L733.5 1078.2L734.4 1078.8L735.3 1077.2L736.1 1077.8L737.0 1076.8L737.9 1075.4L738.8 1073.3L739.6 1074.5L740.5 1075.3L741.4 1073.5L742.3 1075.4L743.2 1073.7L744.1 1071.2L745.0 1073.6L746.0 1068.1L746.9 1071.6L747.8 1072.4L748.6 1067.9L749.5 1067.5L750.4 1069.0L751.3 1069.4L752.2 1067.0L753.1 1066.0L754.0 1068.0L754.9 1064.6L755.8 1061.3L756.7 1062.5L757.6 1062.2L758.6 1059.1L759.5 1061.8L760.4 1059.6L761.3 1061.4L762.3 1056.9L763.2 1057.1L764.1 1056.0L765.1 1060.7L766.0 1060.7L767.0 1060.6L768.0 1060.1L769.0 1058.6L770.0 1057.7L771.0 1052.7L772.0 1055.7L773.1 1054.0L774.1 1053.7L775.1 1052.1L776.2 1056.3L777.2 1053.9L778.2 1050.5L779.2 1053.7L780.2 1052.4L781.2 1050.3L782.2 1050.7L783.1 1049.8L784.1 1046.7L785.0 1047.9L786.1 1051.6L787.2 1051.2L788.2 1050.5L789.2 1047.5L790.2 1047.3L791.2 1049.4L792.2 1050.2L793.2 1047.1L794.2 1046.6L795.2 1050.4L796.2 1048.5L797.2 1047.3L798.3 1046.5L799.3 1046.9L800.3 1051.1L801.3 1050.1L802.3 1047.3L803.3 1046.0L804.4 1051.6L805.4 1051.9L806.4 1051.3L807.4 1050.3L808.5 1045.3L809.5 1046.5L810.5 1050.2L811.6 1049.1L812.6 1050.1L813.6 1048.9L814.6 1049.0L815.7 1051.4L816.7 1050.1L817.7 1051.0L818.7 1051.9L819.8 1052.8L820.8 1054.5L821.8 1055.0L822.8 1050.3L823.8 1052.3L824.8 1052.3L825.8 1055.0L826.8 1052.3L827.8 1055.9L828.8 1056.3L829.9 1056.2L830.9 1053.7L831.9 1055.2L832.9 1054.3L834.0 1057.5L835.0 1058.8L836.0 1054.7L837.0 1056.1L838.0 1057.8L839.0 1057.8L840.0 1061.7L841.1 1059.2L842.1 1059.8L843.1 1057.8L844.1 1062.6L845.2 1060.6L846.2 1061.6L847.2 1060.1L848.3 1055.9L849.3 1056.7L850.3 1057.7L851.4 1060.9L852.4 1059.5L853.4 1061.2L854.5 1061.1L855.5 1061.1L856.5 1062.4L857.6 1061.0L858.7 1057.8L859.8 1059.9L861.0 1064.4L862.1 1060.1L863.2 1064.6L864.3 1065.3L865.3 1061.3L866.3 1062.5L867.2 1059.5L868.0 1062.9L868.8 1059.8L869.4 1058.2L870.0 1059.1L870.4 1058.3L870.8 1057.2L871.2 1057.5L871.5 1055.7L871.7 1053.8L872.0 1055.7L872.2 1057.2L872.5 1051.6L872.8 1048.6L873.1 1047.0L873.5 1048.8L874.0 1046.6L874.5 1045.9L875.2 1041.5L875.9 1042.1L876.7 1042.0L877.6 1044.9L878.4 1042.4L879.3 1039.0L880.3 1042.5L881.2 1043.1L882.1 1042.4L883.1 1038.4L884.0 1040.5L885.0 1040.9L885.9 1040.5L886.9 1039.5L888.0 1038.2L889.0 1039.1L890.0 1039.2L891.1 1039.8L892.1 1039.7L893.1 1039.0L894.1 1039.9L895.0 1037.8L896.0 1037.6L897.0 1037.7L897.9 1037.6L898.8 1036.5L899.7 1037.0L900.6 1035.9L901.6 1034.3L902.6 1034.6L903.6 1033.6L904.6 1033.2L905.6 1033.0L906.8 1035.2L907.9 1034.9L909.1 1033.2L910.3 1035.3L911.5 1035.3L912.6 1034.5L913.7 1035.2L914.7 1036.5L915.6 1034.9L916.4 1034.7L917.3 1034.6L917.9 1032.2L918.5 1031.0L919.0 1030.1L919.7 1030.4L920.7 1030.6L921.4 1029.1L922.1 1028.6L923.0 1029.7L923.9 1029.5L924.9 1030.2L925.9 1029.8L927.0 1029.9L928.1 1030.2L929.3 1030.4L930.5 1029.9L931.7 1030.1L932.9 1032.5L934.1 1034.0L935.3 1032.6L936.5 1030.6L937.7 1032.0L938.9 1032.9L940.0 1030.9L941.1 1031.7L942.1 1031.7L943.2 1031.3L944.2 1031.3L945.2 1032.5L946.2 1031.2L947.3 1031.2L948.2 1032.3L949.2 1030.1L950.2 1029.0L951.2 1031.1L952.2 1031.5L953.2 1029.9L954.2 1029.5L955.2 1027.9L956.2 1028.0L957.2 1029.6L958.2 1029.3L959.3 1028.4L960.3 1027.2L961.3 1025.9L962.4 1026.5L963.4 1026.3L964.5 1027.5L965.6 1026.4L966.6 1026.5L967.7 1027.3L968.8 1027.7L969.9 1026.7L971.0 1026.8L972.1 1026.2L973.2 1023.6L974.3 1025.8L975.3 1025.4L976.4 1025.3L977.5 1025.5L978.6 1024.8L979.6 1025.8L980.7 1024.6L981.7 1024.4L982.7 1024.2L983.6 1023.5L984.6 1023.8L985.5 1023.5L986.5 1023.0L987.4 1021.5L988.4 1020.9L989.3 1020.7L990.2 1020.6L991.2 1018.8L992.1 1019.0L993.1 1018.3L994.0 1018.2L995.0 1017.7L996.0 1018.5L997.0 1017.9L998.0 1017.6L999.0 1015.7L1000.0 1015.3L1001.0 1015.3L1002.1 1016.4L1003.0 1015.9L1004.0 1013.8L1004.9 1014.3L1005.9 1014.9L1006.9 1012.1L1007.9 1012.2L1008.9 1012.9L1009.9 1011.9L1011.0 1010.2L1012.1 1011.5L1013.1 1010.8L1014.2 1009.9L1015.3 1007.9L1016.3 1008.2L1017.4 1008.9L1018.5 1008.2L1019.6 1007.5L1020.6 1006.3L1021.7 1007.0L1022.8 1005.3L1023.8 1005.7L1024.8 1004.7L1025.9 1003.4L1026.9 1004.7L1027.9 1002.3L1028.9 1002.2L1029.8 1002.5L1030.8 1000.9L1031.7 1000.3L1032.6 1001.3L1033.5 1000.9L1034.3 1000.8L1035.5 1001.5L1036.7 1002.2L1037.8 1000.2L1038.9 1002.0L1039.9 1000.4L1041.0 999.7L1042.0 997.7L1043.0 998.5L1044.0 999.9L1045.0 1000.1L1046.0 999.0L1047.1 999.6L1048.2 999.8L1049.3 998.4L1050.2 997.2L1051.2 997.4L1052.1 997.6L1053.1 997.7L1054.1 997.6L1055.1 995.9L1056.1 996.0L1057.1 995.3L1058.2 995.1L1059.2 995.4L1060.2 995.0L1061.3 993.1L1062.3 992.4L1063.3 991.8L1064.3 991.4L1065.3 991.0L1066.2 990.8L1067.2 990.1L1068.1 989.2L1069.0 988.1L1069.9 989.6L1070.7 991.2L1071.9 989.6L1073.0 989.4L1074.0 989.0L1075.0 988.6L1075.9 990.1L1076.9 988.3L1077.9 987.6L1079.0 986.7L1080.1 988.3L1081.4 987.4L1082.2 987.3L1083.1 987.1L1084.1 986.8L1085.0 987.7L1086.0 985.6L1087.0 989.0L1088.1 985.2L1089.2 985.9L1090.3 987.0L1091.4 987.2L1092.5 986.5L1093.6 986.8L1094.8 986.6L1095.9 986.4L1097.1 986.6L1098.3 986.1L1099.4 985.7L1100.6 985.5L1101.7 986.0L1102.9 985.1L1104.0 985.5L1105.1 986.1L1106.2 985.0L1107.3 985.3L1108.3 983.9L1109.3 984.1L1110.4 984.1L1111.5 983.7L1112.6 983.7L1113.7 984.1L1114.8 982.5L1115.9 981.9L1117.0 982.3L1118.1 980.9L1119.2 981.7L1120.2 982.4L1121.3 981.3L1122.3 981.6L1123.4 981.0L1124.4 981.3L1125.4 980.4L1126.3 979.6L1127.2 976.8L1128.2 978.3L1129.0 978.8L1129.9 977.9L1130.7 977.1L1131.7 977.2L1132.5 975.8L1133.4 975.3L1134.2 974.8L1134.9 973.6L1135.6 972.9L1136.3 971.9L1137.0 970.7L1137.7 970.1L1138.4 969.3L1139.1 968.5L1139.8 968.4L1140.6 967.3L1141.4 966.5L1142.3 965.7L1143.3 965.6L1144.2 965.6L1145.2 964.7L1146.2 964.6L1147.2 964.1L1148.2 963.5L1149.1 963.1L1150.1 963.3L1151.1 962.6L1152.1 963.3L1153.1 962.8L1154.0 963.6L1154.9 963.5L1155.8 964.0L1156.7 964.9L1157.7 964.5L1158.6 965.3L1159.6 965.6L1160.6 966.3L1161.7 966.8L1162.8 966.9L1163.7 967.0L1164.6 967.0L1165.6 967.4L1166.6 967.3L1167.6 967.5L1168.7 967.5L1169.7 967.1L1170.8 967.2L1171.9 967.7L1173.1 967.7L1174.2 968.1L1175.3 966.4L1176.5 967.8L1177.6 968.2L1178.7 967.9L1179.9 968.1L1181.0 967.9L1182.1 967.8L1183.2 968.1L1184.3 967.4L1185.4 967.1L1186.5 968.1L1187.6 968.0L1188.8 968.0L1189.9 968.1L1191.1 968.3L1192.3 967.9L1193.5 968.2L1194.6 968.2L1195.8 967.7L1196.9 968.1L1198.0 968.2L1199.1 967.9L1200.2 968.4L1201.2 968.0L1202.2 968.4L1203.2 968.5L1204.1 967.5L1204.9 967.1L1205.7 968.1L1207.0 967.7L1208.1 967.6L1209.2 967.7L1210.2 966.7L1211.1 967.0L1212.1 966.7L1212.9 967.0L1213.7 967.9L1214.5 968.7L1215.2 969.8L1216.0 970.5L1216.8 971.4L1217.7 971.9L1218.6 971.5L1219.5 972.1L1220.5 972.2L1221.5 972.5L1222.6 971.7L1223.6 971.8L1224.8 971.3L1225.9 970.5L1227.0 970.7L1228.2 970.7L1229.3 969.9L1230.2 970.0L1231.1 969.5L1232.0 969.0L1233.0 968.3L1233.9 968.0L1234.9 967.7L1235.9 967.0L1236.9 966.1L1237.8 966.0L1238.8 965.7L1239.8 965.5L1240.7 964.9L1241.6 963.8L1242.6 963.8L1243.4 962.7L1244.3 962.6L1245.3 962.2L1246.3 962.5L1247.2 961.8L1248.2 961.2L1249.1 960.5L1250.0 960.8L1250.9 960.0L1251.9 960.0L1252.9 960.1L1253.9 959.6L1254.8 959.9L1255.6 959.3L1256.5 960.3L1257.5 959.9L1258.4 960.9L1259.4 961.3L1260.3 961.9L1261.3 962.8L1262.3 961.8L1263.3 963.2L1264.3 963.5L1265.3 964.4L1266.3 964.9L1267.3 965.3L1268.3 965.6L1269.2 966.0L1270.2 966.8L1271.2 966.7L1272.1 967.9L1273.1 967.9L1274.1 968.6L1275.1 968.5L1276.0 969.5L1277.0 969.8L1278.0 970.5L1278.9 971.1L1279.9 971.0L1280.9 971.7L1281.8 972.3L1282.7 973.5L1283.7 972.8L1284.6 973.9L1285.5 974.2L1286.4 974.4L1287.3 975.2L1288.1 975.8L1289.0 977.0L1289.8 977.1L1290.6 978.6L1291.4 978.6L1292.2 979.6L1293.0 979.6L1293.8 980.6L1294.6 981.6L1295.4 982.0L1296.2 982.5L1297.0 983.8L1297.8 984.7L1298.7 985.2L1299.5 985.7L1300.4 986.5L1301.3 986.9L1302.2 988.0L1303.1 988.6L1304.0 988.4L1304.9 989.7L1305.9 990.2L1306.8 990.6L1307.7 991.3L1308.7 992.1L1309.6 992.8L1310.6 993.2L1311.6 993.1L1312.6 994.1L1313.6 993.6L1314.6 995.0L1315.6 995.5L1316.6 996.1L1317.5 995.9L1318.5 997.2L1319.4 997.6L1320.4 997.7L1321.3 997.6L1322.3 998.6L1323.3 998.6L1324.3 998.8L1325.3 999.6L1326.3 1001.1L1327.3 1000.3L1328.3 1001.0L1329.3 1001.7L1330.3 1002.4L1331.3 1002.1L1332.4 1002.6L1333.4 1003.8L1334.4 1003.9L1335.4 1004.9L1336.5 1004.2L1337.5 1005.0L1338.5 1005.7L1339.5 1005.9L1340.5 1005.9L1341.5 1006.7L1342.6 1006.5L1343.6 1007.4L1344.6 1008.4L1345.7 1009.0L1346.7 1009.4L1347.8 1009.8L1348.9 1009.5L1349.9 1010.2L1351.0 1011.3L1352.0 1012.1L1353.0 1011.8L1354.0 1011.6L1355.0 1011.7L1356.0 1012.9L1357.0 1013.1L1358.0 1012.2L1358.9 1013.1L1359.8 1013.6L1360.7 1013.6L1361.8 1012.8L1362.9 1012.8L1363.9 1012.7L1364.9 1011.9L1365.9 1011.3L1366.9 1011.2L1367.8 1011.4L1368.8 1010.9L1369.7 1010.1L1370.7 1009.0L1371.6 1008.1L1372.6 1007.9L1373.6 1007.8L1374.6 1007.6L1375.5 1006.5L1376.4 1006.2L1377.3 1005.0L1378.1 1004.3L1379.0 1004.3L1379.9 1003.3L1380.8 1002.3L1381.7 1001.6L1382.6 1001.9L1383.5 1000.4L1384.4 1000.3L1385.3 999.3L1386.3 999.2L1387.2 999.3L1388.1 998.6L1389.0 998.3L1390.0 998.4L1390.9 998.2L1391.8 998.4L1392.8 997.7L1393.7 998.9L1394.6 998.9L1395.6 998.9L1396.5 1000.0L1397.4 1000.6L1398.4 1001.1L1399.3 1002.0L1400.3 1002.0L1401.2 1002.5L1402.2 1003.6L1403.2 1004.9L1404.2 1005.3L1405.2 1005.7L1406.3 1006.0L1407.3 1006.7L1408.4 1007.4L1409.5 1007.1L1410.5 1007.2L1411.4 1007.7L1412.4 1007.8L1413.4 1007.7L1414.5 1008.1L1415.5 1007.6L1416.6 1007.1L1417.7 1006.6L1418.8 1007.5L1419.9 1007.0L1421.0 1007.0L1422.1 1007.0L1423.2 1007.0L1424.4 1006.7L1425.5 1006.4L1426.6 1006.0L1427.7 1005.5L1428.8 1005.4L1429.9 1004.9L1431.0 1005.1L1432.1 1005.1L1433.2 1004.8L1434.2 1004.3L1435.3 1003.8L1436.3 1003.4L1437.3 1003.5L1438.4 1003.5L1439.5 1003.6L1440.7 1003.5L1441.8 1003.3L1442.9 1003.2L1444.0 1002.4L1445.1 1002.4L1446.2 1002.5L1447.3 1002.4L1448.3 1001.7L1449.4 1001.5L1450.4 1001.9L1451.5 1001.7L1452.5 1001.4L1453.5 1001.0L1454.5 1000.7L1455.4 1000.9L1456.4 1001.0L1457.3 1001.0L1458.2 1001.1L1459.4 1001.0L1460.5 1001.5L1461.5 1001.2L1462.5 1001.6L1463.5 1001.8L1464.5 1001.5L1465.5 1001.5L1466.5 1002.4L1467.5 1002.8L1468.6 1002.9L1469.8 1003.2L1470.7 1002.6L1471.6 1002.2L1472.5 1002.1L1473.5 1001.2L1474.5 1001.0L1475.5 1000.3L1476.6 1000.1L1477.7 999.3L1478.7 998.8L1479.8 999.0L1480.9 998.2L1482.0 998.0L1483.1 996.6L1484.2 995.8L1485.3 995.0L1486.3 994.7L1487.4 993.7L1488.4 993.8L1489.4 993.3L1490.3 992.7L1491.3 991.9L1492.2 992.5L1493.0 992.7L1494.0 993.0L1495.0 992.7L1496.0 993.6L1496.9 994.4L1497.8 995.9L1498.7 995.7L1499.5 996.6L1500.4 996.2L1501.2 997.1L1502.1 997.2L1502.9 997.6L1503.7 999.3L1504.6 999.1L1505.7 1000.9L1506.7 999.7L1507.8 999.9L1508.8 998.3L1509.8 998.5L1510.9 1000.2L1511.9 999.2L1512.9 1001.2L1513.9 999.6L1514.6 1000.0L1515.4 1003.2L1516.1 1000.4L1516.8 1002.2L1517.5 1004.2L1518.1 1005.0L1518.8 1004.4L1519.5 1008.4L1520.2 1006.5L1520.9 1006.2L1521.6 1009.9L1522.3 1009.6L1523.1 1011.0L1523.8 1012.4L1524.7 1011.5L1525.5 1012.3L1526.4 1013.6L1527.3 1014.9L1528.2 1013.5L1529.2 1016.5L1530.2 1016.0L1531.2 1014.8L1532.3 1016.3L1533.3 1017.4L1534.4 1018.5L1535.4 1018.5L1536.4 1019.0L1537.4 1018.1L1538.4 1019.0L1539.3 1016.2L1540.2 1020.1L1541.0 1019.8L1541.8 1021.7L1542.7 1020.2L1543.5 1020.9L1544.3 1022.3L1545.0 1024.5L1545.6 1024.3L1546.3 1025.6L1547.0 1025.3L1547.8 1026.9L1548.7 1029.0L1549.6 1028.7L1550.6 1026.6L1551.7 1024.3L1552.7 1026.0L1553.9 1026.1L1555.0 1024.5L1556.1 1025.0L1557.2 1021.5L1558.3 1022.6L1559.3 1022.5L1560.3 1024.3L1561.2 1022.5L1562.0 1023.6L1562.7 1026.6L1563.4 1024.7L1564.1 1027.7L1564.8 1029.0L1565.5 1028.5L1566.2 1028.8L1567.0 1030.3L1567.8 1030.8L1568.6 1031.4L1569.6 1033.1L1570.4 1033.6L1571.3 1037.1L1572.2 1035.8L1573.1 1034.9L1574.1 1035.6L1575.1 1037.1L1576.1 1036.9L1577.2 1035.9L1578.2 1035.4L1579.3 1038.0L1580.4 1036.6L1581.5 1037.0L1582.6 1038.3L1583.8 1037.4L1584.9 1038.5L1586.0 1037.1L1587.1 1037.6L1588.2 1037.5L1589.2 1039.7L1590.3 1035.4L1591.3 1037.3L1592.5 1036.6L1593.6 1036.0L1594.8 1036.0L1595.9 1036.5L1597.1 1038.5L1598.3 1038.7L1599.4 1036.3L1600.6 1035.5L1601.8 1036.2L1602.9 1038.2L1604.0 1036.3L1605.1 1034.2L1606.1 1036.9L1607.1 1036.2L1608.1 1036.8L1609.0 1036.7L1609.9 1034.9L1610.7 1037.2L1611.4 1037.5L1612.6 1035.7L1613.7 1034.7L1614.6 1036.2L1615.4 1037.0L1616.3 1038.6L1617.2 1038.4" fill="none" stroke="#00f" stroke-width="6.4" stroke-linejoin="round" stroke-linecap="butt"/>
<ellipse cx="472.5" cy="1012.55" rx="93.2" ry="98.2" fill="none" stroke="#000" stroke-width="6.5"/>
<line x1="474.5" y1="748" x2="472.5" y2="917" stroke="#000" stroke-width="7" stroke-linecap="round"/>
<polygon points="473,717 477,717 484.5,748.5 483.5,751 465,751 463.5,748.5" fill="#000" stroke="#000" stroke-width="0.6" stroke-linejoin="round"/>
<line x1="161.7" y1="127.6" x2="162.4" y2="201.2" stroke="#000" stroke-width="7" stroke-linecap="round"/>
<g stroke="#000" stroke-width="6" fill="none">
<line x1="132" y1="38" x2="132" y2="1136"/>
<line x1="1618" y1="38" x2="1618" y2="1136"/>
<line x1="129" y1="41" x2="564" y2="41"/>
<line x1="592" y1="41" x2="1621" y2="41"/>
<line x1="129" y1="1133" x2="564" y2="1133"/>
<line x1="592" y1="1133" x2="1621" y2="1133"/>
</g>
<g stroke="#000" stroke-width="5.5">
<line x1="551" y1="64" x2="577.5" y2="18"/>
<line x1="577.5" y1="64" x2="604" y2="18"/>
<line x1="551" y1="1156" x2="577.5" y2="1110"/>
<line x1="577.5" y1="1156" x2="604" y2="1110"/>
</g>
<g stroke="#000" stroke-width="5.5">
<line x1="132.0" y1="1133" x2="132.0" y2="1156"/>
<line x1="286.5" y1="1133" x2="286.5" y2="1156"/>
<line x1="441.0" y1="1133" x2="441.0" y2="1156"/>
<line x1="209.2" y1="1133" x2="209.2" y2="1146"/>
<line x1="363.8" y1="1133" x2="363.8" y2="1146"/>
<line x1="518.2" y1="1133" x2="518.2" y2="1146"/>
<line x1="590.0" y1="1133" x2="590.0" y2="1156"/>
<line x1="761.2" y1="1133" x2="761.2" y2="1156"/>
<line x1="932.5" y1="1133" x2="932.5" y2="1156"/>
<line x1="1103.8" y1="1133" x2="1103.8" y2="1156"/>
<line x1="1275.0" y1="1133" x2="1275.0" y2="1156"/>
<line x1="1446.2" y1="1133" x2="1446.2" y2="1156"/>
<line x1="1617.5" y1="1133" x2="1617.5" y2="1156"/>
<line x1="675.6" y1="1133" x2="675.6" y2="1146"/>
<line x1="846.9" y1="1133" x2="846.9" y2="1146"/>
<line x1="1018.1" y1="1133" x2="1018.1" y2="1146"/>
<line x1="1189.4" y1="1133" x2="1189.4" y2="1146"/>
<line x1="1360.6" y1="1133" x2="1360.6" y2="1146"/>
<line x1="1531.9" y1="1133" x2="1531.9" y2="1146"/>
</g>
<text transform="translate(132.0,1200) scale(1.0,1.1)" font-family="'Liberation Sans', Arial, sans-serif" font-size="42" font-weight="bold" fill="#000" text-anchor="middle">4000</text>
<text transform="translate(286.5,1200) scale(1.0,1.1)" font-family="'Liberation Sans', Arial, sans-serif" font-size="42" font-weight="bold" fill="#000" text-anchor="middle">3500</text>
<text transform="translate(441.0,1200) scale(1.0,1.1)" font-family="'Liberation Sans', Arial, sans-serif" font-size="42" font-weight="bold" fill="#000" text-anchor="middle">3000</text>
<text transform="translate(590.0,1200) scale(1.0,1.1)" font-family="'Liberation Sans', Arial, sans-serif" font-size="42" font-weight="bold" fill="#000" text-anchor="middle">1800</text>
<text transform="translate(761.2,1200) scale(1.0,1.1)" font-family="'Liberation Sans', Arial, sans-serif" font-size="42" font-weight="bold" fill="#000" text-anchor="middle">1600</text>
<text transform="translate(932.5,1200) scale(1.0,1.1)" font-family="'Liberation Sans', Arial, sans-serif" font-size="42" font-weight="bold" fill="#000" text-anchor="middle">1400</text>
<text transform="translate(1103.8,1200) scale(1.0,1.1)" font-family="'Liberation Sans', Arial, sans-serif" font-size="42" font-weight="bold" fill="#000" text-anchor="middle">1200</text>
<text transform="translate(1275.0,1200) scale(1.0,1.1)" font-family="'Liberation Sans', Arial, sans-serif" font-size="42" font-weight="bold" fill="#000" text-anchor="middle">1000</text>
<text transform="translate(1446.2,1200) scale(1.0,1.1)" font-family="'Liberation Sans', Arial, sans-serif" font-size="42" font-weight="bold" fill="#000" text-anchor="middle">800</text>
<text transform="translate(1617.5,1200) scale(1.0,1.1)" font-family="'Liberation Sans', Arial, sans-serif" font-size="42" font-weight="bold" fill="#000" text-anchor="middle">600</text>
<text transform="translate(626,1299) scale(1.0,1.05)" font-family="'Liberation Sans', Arial, sans-serif" font-size="54.5" font-weight="normal" fill="#000" text-anchor="start" stroke="#000" stroke-width="1.2" stroke-linejoin="round">Wavenumbers (cm<tspan font-size="33" dy="-27">-1</tspan><tspan dy="27" dx="-1">)</tspan></text>
<text transform="translate(64.5,839.5) rotate(-90)" font-family="'Liberation Sans', Arial, sans-serif" font-weight="bold" font-size="54" fill="#000">Absorbance (u.a)</text>
<text transform="translate(179,181) scale(1.0,1.07)" font-family="'Liberation Sans', Arial, sans-serif" font-size="37.6" font-weight="normal" fill="#000" text-anchor="start" stroke="#000" stroke-width="1.2" stroke-linejoin="round">0.01 u.a</text>
<text transform="translate(147.5,281)" font-family="'Liberation Sans', Arial, sans-serif" font-size="41.3" font-weight="bold" fill="#000" text-anchor="start">Unwashed sample</text>
<text transform="translate(160,337.6)" font-family="'Liberation Sans', Arial, sans-serif" font-size="41.0" font-weight="bold" fill="#f00" text-anchor="start">Water whashed x1</text>
<text transform="translate(156.5,397)" font-family="'Liberation Sans', Arial, sans-serif" font-size="41.3" font-weight="bold" fill="#00f" text-anchor="start">Water whashed x2</text>
<text transform="translate(1366,117)" font-family="'Liberation Sans', Arial, sans-serif" font-size="39" font-weight="normal" fill="#000" text-anchor="start" stroke="#000" stroke-width="1.2" stroke-linejoin="round">(=C-H)<tspan font-size="22" dy="15">oop</tspan></text>
<text transform="translate(1359,192.5)" font-family="'Liberation Sans', Arial, sans-serif" font-size="38.1" font-weight="bold" fill="#000" text-anchor="start">aromatics</text>
<text transform="translate(1130.5,179) scale(1.0,1.04)" font-family="'Liberation Sans', Arial, sans-serif" font-size="42" font-weight="bold" fill="#000" text-anchor="start">1050</text>
<text transform="translate(1243.5,276) scale(1.0,1.04)" font-family="'Liberation Sans', Arial, sans-serif" font-size="42" font-weight="bold" fill="#000" text-anchor="start">1030</text>
<text transform="translate(1409.5,313) scale(1.0,1.04)" font-family="'Liberation Sans', Arial, sans-serif" font-size="42" font-weight="bold" fill="#000" text-anchor="start">810</text>
<text transform="translate(1471.5,351) scale(1.0,1.04)" font-family="'Liberation Sans', Arial, sans-serif" font-size="42" font-weight="bold" fill="#000" text-anchor="start">750</text>
<text transform="translate(1331.5,362.6) scale(1.0,1.04)" font-family="'Liberation Sans', Arial, sans-serif" font-size="42" font-weight="bold" fill="#000" text-anchor="start">870</text>
<text transform="translate(1093.5,491) scale(1.0,1.04)" font-family="'Liberation Sans', Arial, sans-serif" font-size="42" font-weight="bold" fill="#000" text-anchor="start">1160</text>
<text transform="translate(720,290)" font-family="'Liberation Sans', Arial, sans-serif" font-size="39" font-weight="normal" fill="#000" text-anchor="start" stroke="#000" stroke-width="1.2" stroke-linejoin="round">(=C-H)<tspan font-size="22" dy="15">ip</tspan></text>
<text transform="translate(862.5,290)" font-family="'Liberation Sans', Arial, sans-serif" font-size="38" font-weight="bold" fill="#000" text-anchor="start">aromatics</text>
<text transform="translate(1049.5,290)" font-family="'Liberation Sans', Arial, sans-serif" font-size="38" font-weight="bold" fill="#000" text-anchor="start">+</text>
<text x="1082.5" y="290" font-family="'Liberation Serif', 'Times New Roman', serif" font-size="39" fill="#000" stroke="#000" stroke-width="0.8">δ</text>
<text transform="translate(1101.5,290)" font-family="'Liberation Sans', Arial, sans-serif" font-size="37.8" font-weight="normal" fill="#000" text-anchor="start" stroke="#000" stroke-width="1.2" stroke-linejoin="round">(C-H)</text>
<text transform="translate(708,580)" font-family="'Liberation Sans', Arial, sans-serif" font-size="38.6" font-weight="normal" fill="#000" text-anchor="start" stroke="#000" stroke-width="1.2" stroke-linejoin="round">(C=C)</text>
<text transform="translate(675,646)" font-family="'Liberation Sans', Arial, sans-serif" font-size="38.1" font-weight="bold" fill="#000" text-anchor="start">aromatics</text>
<text transform="translate(381,636.5) scale(1.15,1.0)" font-family="'Liberation Sans', Arial, sans-serif" font-size="31" font-weight="normal" fill="#000" text-anchor="start" stroke="#000" stroke-width="1.5" stroke-linejoin="round">ν</text>
<text transform="translate(398,637)" font-family="'Liberation Sans', Arial, sans-serif" font-size="39" font-weight="normal" fill="#000" text-anchor="start" stroke="#000" stroke-width="1.2" stroke-linejoin="round">(C-H)</text>
<text transform="translate(229,702)" font-family="'Liberation Sans', Arial, sans-serif" font-size="37.6" font-weight="bold" fill="#000" text-anchor="start">aliphatic hydrocarbons</text></svg>
</body></html>
